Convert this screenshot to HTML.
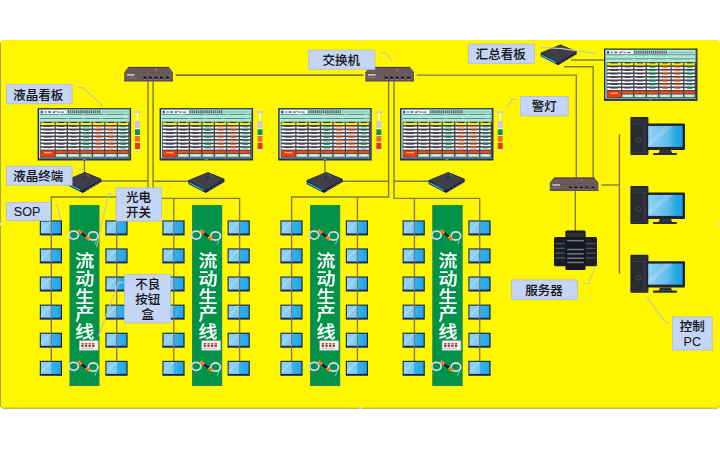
<!DOCTYPE html>
<html lang="zh-CN">
<head>
<meta charset="utf-8">
<title>流动生产线 看板系统</title>
<style>
html,body{margin:0;padding:0;background:#fff;}
body{width:720px;height:450px;overflow:hidden;}
#stage{position:relative;width:720px;height:450px;overflow:hidden;background:#fff;font-family:"Liberation Sans","Noto Sans CJK SC",sans-serif;}
#stage svg{position:absolute;left:-10px;top:0;filter:blur(0.42px);}
.lb{position:absolute;display:flex;align-items:center;justify-content:center;color:#161616;font-size:12.5px;font-weight:500;-webkit-text-stroke:0.1px #161616;line-height:15px;text-align:center;white-space:nowrap;box-sizing:border-box;padding:3px 2px 0 0;}
.lb.ml{white-space:normal;}
.lb.en{font-size:12.6px;}
.lb.ml span{display:block;word-break:break-all;}
.cv{position:absolute;color:#fff;-webkit-text-stroke:0.2px #fff;font-size:17.2px;font-weight:500;line-height:17.7px;text-align:center;word-break:break-all;white-space:normal;transform:scaleX(1.11);transform-origin:center top;}
.cv{box-sizing:border-box;padding:0 5px;}
</style>
</head>
<body>
<div id="stage">
<svg width="740" height="450" viewBox="-10 0 740 450">
<defs><linearGradient id="mg" x1="0" y1="0" x2="1" y2="0"><stop offset="0" stop-color="#8fd3f6"/><stop offset="0.5" stop-color="#7cc9f3"/><stop offset="0.52" stop-color="#35b3ee"/><stop offset="1" stop-color="#22a5e6"/></linearGradient><linearGradient id="pg" x1="0" y1="0" x2="1" y2="0"><stop offset="0" stop-color="#8ed2f4"/><stop offset="0.55" stop-color="#62bdec"/><stop offset="0.8" stop-color="#2aa9e6"/><stop offset="1" stop-color="#189fe2"/></linearGradient></defs>
<path d="M2.4 40 L726 40 L726 408.6 L2.4 408.6 L0 406.2 L0 42.4 Z" fill="#fff700"/>
<path d="M717.8 39 L727 39 L727 50 L720.2 50 L720.2 42.4 Z M717.8 409.6 L727 409.6 L727 400 L720.2 400 L720.2 406.2 Z" fill="#ffffff"/>
<path d="M720.2 50 L727 50 L727 400 L720.2 400 Z" fill="#fff700"/>
<path d="M0.45 42.6 L0.45 406 L2.6 408.2 L717.4 408.2 L719.7 406" stroke="#9a9d38" stroke-width="0.9" fill="none"/>
<path d="M148 80L148 197L51.3 197L51.3 361" stroke="#807e48" stroke-width="1.4" fill="none"/><path d="M153.1 80L153.1 198.4L239.6 198.4L239.6 361" stroke="#807e48" stroke-width="1.4" fill="none"/><path d="M116.7 197L116.7 361" stroke="#807e48" stroke-width="1.4" fill="none"/><path d="M173.8 198.4L173.8 361" stroke="#807e48" stroke-width="1.4" fill="none"/><path d="M100 181L148 181" stroke="#807e48" stroke-width="1.4" fill="none"/><path d="M153.1 181.3L190 181.3" stroke="#807e48" stroke-width="1.4" fill="none"/><path d="M175.8 75.1L363.4 75.1" stroke="#807e48" stroke-width="1.6" fill="none"/><path d="M388.6 80L388.6 197L291.6 197L291.6 361" stroke="#807e48" stroke-width="1.4" fill="none"/><path d="M394 80L394 198.4L479.7 198.4L479.7 361" stroke="#807e48" stroke-width="1.4" fill="none"/><path d="M357.4 197L357.4 361" stroke="#807e48" stroke-width="1.4" fill="none"/><path d="M414.4 198.4L414.4 361" stroke="#807e48" stroke-width="1.4" fill="none"/><path d="M341 181.2L388.6 181.2" stroke="#807e48" stroke-width="1.4" fill="none"/><path d="M394 181.3L430 181.3" stroke="#807e48" stroke-width="1.4" fill="none"/><path d="M416.7 75.1L576.3 75.1L576.3 179" stroke="#807e48" stroke-width="1.4" fill="none"/><path d="M571 60L604.5 60" stroke="#807e48" stroke-width="1.4" fill="none"/><path d="M564 66.7L593.2 66.7L593.2 179" stroke="#807e48" stroke-width="1.4" fill="none"/><path d="M601.4 185L619.4 185" stroke="#807e48" stroke-width="1.4" fill="none"/><path d="M619.4 134.2L619.4 273.8" stroke="#807e48" stroke-width="1.4" fill="none"/><path d="M575.3 190L575.3 231" stroke="#807e48" stroke-width="1.4" fill="none"/><path d="M84.4 160L84.4 173" stroke="#807e48" stroke-width="1.4" fill="none"/><path d="M324.9 160L324.9 173" stroke="#807e48" stroke-width="1.4" fill="none"/>
<rect x="69.7" y="205" width="29.6" height="180.8" fill="#029249"/>
<rect x="69.7" y="205" width="0.8" height="180.8" fill="#3c7a55"/>
<rect x="98.6" y="205" width="0.7" height="180.8" fill="#2f8a58"/>
<rect x="69.7" y="385" width="29.6" height="0.9" fill="#3c7a55"/>
<rect x="192.2" y="205" width="29.9" height="180.8" fill="#029249"/>
<rect x="192.2" y="205" width="0.8" height="180.8" fill="#3c7a55"/>
<rect x="221.4" y="205" width="0.7" height="180.8" fill="#2f8a58"/>
<rect x="192.2" y="385" width="29.9" height="0.9" fill="#3c7a55"/>
<rect x="310.2" y="205" width="29.9" height="180.8" fill="#029249"/>
<rect x="310.2" y="205" width="0.8" height="180.8" fill="#3c7a55"/>
<rect x="339.4" y="205" width="0.7" height="180.8" fill="#2f8a58"/>
<rect x="310.2" y="385" width="29.9" height="0.9" fill="#3c7a55"/>
<rect x="432.5" y="205" width="30" height="180.8" fill="#029249"/>
<rect x="432.5" y="205" width="0.8" height="180.8" fill="#3c7a55"/>
<rect x="461.8" y="205" width="0.7" height="180.8" fill="#2f8a58"/>
<rect x="432.5" y="385" width="30" height="0.9" fill="#3c7a55"/>
<g transform="translate(39.8 220.4)"><rect x="0" y="0" width="22.2" height="15" fill="#18234f"/><rect x="1.1" y="1.1" width="19.9" height="12" fill="url(#mg)"/><path d="M0.8 10.5 L9.32 1 L12.88 1 L0.8 12.8 Z" fill="#ffffff" opacity="0.2"/></g><path d="M51.3 220.4L51.3 235.4" stroke="#73777a" stroke-width="1.2" fill="none"/><g transform="translate(105.4 220.4)"><rect x="0" y="0" width="22.2" height="15" fill="#18234f"/><rect x="1.1" y="1.1" width="19.9" height="12" fill="url(#mg)"/><path d="M0.8 10.5 L9.32 1 L12.88 1 L0.8 12.8 Z" fill="#ffffff" opacity="0.2"/></g><path d="M116.7 220.4L116.7 235.4" stroke="#73777a" stroke-width="1.2" fill="none"/><g transform="translate(39.8 248.4)"><rect x="0" y="0" width="22.2" height="15" fill="#18234f"/><rect x="1.1" y="1.1" width="19.9" height="12" fill="url(#mg)"/><path d="M0.8 10.5 L9.32 1 L12.88 1 L0.8 12.8 Z" fill="#ffffff" opacity="0.2"/></g><path d="M51.3 248.4L51.3 263.4" stroke="#73777a" stroke-width="1.2" fill="none"/><g transform="translate(105.4 248.4)"><rect x="0" y="0" width="22.2" height="15" fill="#18234f"/><rect x="1.1" y="1.1" width="19.9" height="12" fill="url(#mg)"/><path d="M0.8 10.5 L9.32 1 L12.88 1 L0.8 12.8 Z" fill="#ffffff" opacity="0.2"/></g><path d="M116.7 248.4L116.7 263.4" stroke="#73777a" stroke-width="1.2" fill="none"/><g transform="translate(39.8 276.5)"><rect x="0" y="0" width="22.2" height="15" fill="#18234f"/><rect x="1.1" y="1.1" width="19.9" height="12" fill="url(#mg)"/><path d="M0.8 10.5 L9.32 1 L12.88 1 L0.8 12.8 Z" fill="#ffffff" opacity="0.2"/></g><path d="M51.3 276.5L51.3 291.5" stroke="#73777a" stroke-width="1.2" fill="none"/><g transform="translate(105.4 276.5)"><rect x="0" y="0" width="22.2" height="15" fill="#18234f"/><rect x="1.1" y="1.1" width="19.9" height="12" fill="url(#mg)"/><path d="M0.8 10.5 L9.32 1 L12.88 1 L0.8 12.8 Z" fill="#ffffff" opacity="0.2"/></g><path d="M116.7 276.5L116.7 291.5" stroke="#73777a" stroke-width="1.2" fill="none"/><g transform="translate(39.8 304.6)"><rect x="0" y="0" width="22.2" height="15" fill="#18234f"/><rect x="1.1" y="1.1" width="19.9" height="12" fill="url(#mg)"/><path d="M0.8 10.5 L9.32 1 L12.88 1 L0.8 12.8 Z" fill="#ffffff" opacity="0.2"/></g><path d="M51.3 304.6L51.3 319.6" stroke="#73777a" stroke-width="1.2" fill="none"/><g transform="translate(105.4 304.6)"><rect x="0" y="0" width="22.2" height="15" fill="#18234f"/><rect x="1.1" y="1.1" width="19.9" height="12" fill="url(#mg)"/><path d="M0.8 10.5 L9.32 1 L12.88 1 L0.8 12.8 Z" fill="#ffffff" opacity="0.2"/></g><path d="M116.7 304.6L116.7 319.6" stroke="#73777a" stroke-width="1.2" fill="none"/><g transform="translate(39.8 332.7)"><rect x="0" y="0" width="22.2" height="15" fill="#18234f"/><rect x="1.1" y="1.1" width="19.9" height="12" fill="url(#mg)"/><path d="M0.8 10.5 L9.32 1 L12.88 1 L0.8 12.8 Z" fill="#ffffff" opacity="0.2"/></g><path d="M51.3 332.7L51.3 347.7" stroke="#73777a" stroke-width="1.2" fill="none"/><g transform="translate(105.4 332.7)"><rect x="0" y="0" width="22.2" height="15" fill="#18234f"/><rect x="1.1" y="1.1" width="19.9" height="12" fill="url(#mg)"/><path d="M0.8 10.5 L9.32 1 L12.88 1 L0.8 12.8 Z" fill="#ffffff" opacity="0.2"/></g><path d="M116.7 332.7L116.7 347.7" stroke="#73777a" stroke-width="1.2" fill="none"/><g transform="translate(39.8 360.8)"><rect x="0" y="0" width="22.2" height="15" fill="#18234f"/><rect x="1.1" y="1.1" width="19.9" height="12" fill="url(#mg)"/><path d="M0.8 10.5 L9.32 1 L12.88 1 L0.8 12.8 Z" fill="#ffffff" opacity="0.2"/></g><g transform="translate(105.4 360.8)"><rect x="0" y="0" width="22.2" height="15" fill="#18234f"/><rect x="1.1" y="1.1" width="19.9" height="12" fill="url(#mg)"/><path d="M0.8 10.5 L9.32 1 L12.88 1 L0.8 12.8 Z" fill="#ffffff" opacity="0.2"/></g><g transform="translate(162.4 220.4)"><rect x="0" y="0" width="22.2" height="15" fill="#18234f"/><rect x="1.1" y="1.1" width="19.9" height="12" fill="url(#mg)"/><path d="M0.8 10.5 L9.32 1 L12.88 1 L0.8 12.8 Z" fill="#ffffff" opacity="0.2"/></g><path d="M173.8 220.4L173.8 235.4" stroke="#73777a" stroke-width="1.2" fill="none"/><g transform="translate(227.6 220.4)"><rect x="0" y="0" width="22.2" height="15" fill="#18234f"/><rect x="1.1" y="1.1" width="19.9" height="12" fill="url(#mg)"/><path d="M0.8 10.5 L9.32 1 L12.88 1 L0.8 12.8 Z" fill="#ffffff" opacity="0.2"/></g><path d="M239.6 220.4L239.6 235.4" stroke="#73777a" stroke-width="1.2" fill="none"/><g transform="translate(162.4 248.4)"><rect x="0" y="0" width="22.2" height="15" fill="#18234f"/><rect x="1.1" y="1.1" width="19.9" height="12" fill="url(#mg)"/><path d="M0.8 10.5 L9.32 1 L12.88 1 L0.8 12.8 Z" fill="#ffffff" opacity="0.2"/></g><path d="M173.8 248.4L173.8 263.4" stroke="#73777a" stroke-width="1.2" fill="none"/><g transform="translate(227.6 248.4)"><rect x="0" y="0" width="22.2" height="15" fill="#18234f"/><rect x="1.1" y="1.1" width="19.9" height="12" fill="url(#mg)"/><path d="M0.8 10.5 L9.32 1 L12.88 1 L0.8 12.8 Z" fill="#ffffff" opacity="0.2"/></g><path d="M239.6 248.4L239.6 263.4" stroke="#73777a" stroke-width="1.2" fill="none"/><g transform="translate(162.4 276.5)"><rect x="0" y="0" width="22.2" height="15" fill="#18234f"/><rect x="1.1" y="1.1" width="19.9" height="12" fill="url(#mg)"/><path d="M0.8 10.5 L9.32 1 L12.88 1 L0.8 12.8 Z" fill="#ffffff" opacity="0.2"/></g><path d="M173.8 276.5L173.8 291.5" stroke="#73777a" stroke-width="1.2" fill="none"/><g transform="translate(227.6 276.5)"><rect x="0" y="0" width="22.2" height="15" fill="#18234f"/><rect x="1.1" y="1.1" width="19.9" height="12" fill="url(#mg)"/><path d="M0.8 10.5 L9.32 1 L12.88 1 L0.8 12.8 Z" fill="#ffffff" opacity="0.2"/></g><path d="M239.6 276.5L239.6 291.5" stroke="#73777a" stroke-width="1.2" fill="none"/><g transform="translate(162.4 304.6)"><rect x="0" y="0" width="22.2" height="15" fill="#18234f"/><rect x="1.1" y="1.1" width="19.9" height="12" fill="url(#mg)"/><path d="M0.8 10.5 L9.32 1 L12.88 1 L0.8 12.8 Z" fill="#ffffff" opacity="0.2"/></g><path d="M173.8 304.6L173.8 319.6" stroke="#73777a" stroke-width="1.2" fill="none"/><g transform="translate(227.6 304.6)"><rect x="0" y="0" width="22.2" height="15" fill="#18234f"/><rect x="1.1" y="1.1" width="19.9" height="12" fill="url(#mg)"/><path d="M0.8 10.5 L9.32 1 L12.88 1 L0.8 12.8 Z" fill="#ffffff" opacity="0.2"/></g><path d="M239.6 304.6L239.6 319.6" stroke="#73777a" stroke-width="1.2" fill="none"/><g transform="translate(162.4 332.7)"><rect x="0" y="0" width="22.2" height="15" fill="#18234f"/><rect x="1.1" y="1.1" width="19.9" height="12" fill="url(#mg)"/><path d="M0.8 10.5 L9.32 1 L12.88 1 L0.8 12.8 Z" fill="#ffffff" opacity="0.2"/></g><path d="M173.8 332.7L173.8 347.7" stroke="#73777a" stroke-width="1.2" fill="none"/><g transform="translate(227.6 332.7)"><rect x="0" y="0" width="22.2" height="15" fill="#18234f"/><rect x="1.1" y="1.1" width="19.9" height="12" fill="url(#mg)"/><path d="M0.8 10.5 L9.32 1 L12.88 1 L0.8 12.8 Z" fill="#ffffff" opacity="0.2"/></g><path d="M239.6 332.7L239.6 347.7" stroke="#73777a" stroke-width="1.2" fill="none"/><g transform="translate(162.4 360.8)"><rect x="0" y="0" width="22.2" height="15" fill="#18234f"/><rect x="1.1" y="1.1" width="19.9" height="12" fill="url(#mg)"/><path d="M0.8 10.5 L9.32 1 L12.88 1 L0.8 12.8 Z" fill="#ffffff" opacity="0.2"/></g><g transform="translate(227.6 360.8)"><rect x="0" y="0" width="22.2" height="15" fill="#18234f"/><rect x="1.1" y="1.1" width="19.9" height="12" fill="url(#mg)"/><path d="M0.8 10.5 L9.32 1 L12.88 1 L0.8 12.8 Z" fill="#ffffff" opacity="0.2"/></g><g transform="translate(280.4 220.4)"><rect x="0" y="0" width="22.2" height="15" fill="#18234f"/><rect x="1.1" y="1.1" width="19.9" height="12" fill="url(#mg)"/><path d="M0.8 10.5 L9.32 1 L12.88 1 L0.8 12.8 Z" fill="#ffffff" opacity="0.2"/></g><path d="M291.6 220.4L291.6 235.4" stroke="#73777a" stroke-width="1.2" fill="none"/><g transform="translate(345.8 220.4)"><rect x="0" y="0" width="22.2" height="15" fill="#18234f"/><rect x="1.1" y="1.1" width="19.9" height="12" fill="url(#mg)"/><path d="M0.8 10.5 L9.32 1 L12.88 1 L0.8 12.8 Z" fill="#ffffff" opacity="0.2"/></g><path d="M357.4 220.4L357.4 235.4" stroke="#73777a" stroke-width="1.2" fill="none"/><g transform="translate(280.4 248.4)"><rect x="0" y="0" width="22.2" height="15" fill="#18234f"/><rect x="1.1" y="1.1" width="19.9" height="12" fill="url(#mg)"/><path d="M0.8 10.5 L9.32 1 L12.88 1 L0.8 12.8 Z" fill="#ffffff" opacity="0.2"/></g><path d="M291.6 248.4L291.6 263.4" stroke="#73777a" stroke-width="1.2" fill="none"/><g transform="translate(345.8 248.4)"><rect x="0" y="0" width="22.2" height="15" fill="#18234f"/><rect x="1.1" y="1.1" width="19.9" height="12" fill="url(#mg)"/><path d="M0.8 10.5 L9.32 1 L12.88 1 L0.8 12.8 Z" fill="#ffffff" opacity="0.2"/></g><path d="M357.4 248.4L357.4 263.4" stroke="#73777a" stroke-width="1.2" fill="none"/><g transform="translate(280.4 276.5)"><rect x="0" y="0" width="22.2" height="15" fill="#18234f"/><rect x="1.1" y="1.1" width="19.9" height="12" fill="url(#mg)"/><path d="M0.8 10.5 L9.32 1 L12.88 1 L0.8 12.8 Z" fill="#ffffff" opacity="0.2"/></g><path d="M291.6 276.5L291.6 291.5" stroke="#73777a" stroke-width="1.2" fill="none"/><g transform="translate(345.8 276.5)"><rect x="0" y="0" width="22.2" height="15" fill="#18234f"/><rect x="1.1" y="1.1" width="19.9" height="12" fill="url(#mg)"/><path d="M0.8 10.5 L9.32 1 L12.88 1 L0.8 12.8 Z" fill="#ffffff" opacity="0.2"/></g><path d="M357.4 276.5L357.4 291.5" stroke="#73777a" stroke-width="1.2" fill="none"/><g transform="translate(280.4 304.6)"><rect x="0" y="0" width="22.2" height="15" fill="#18234f"/><rect x="1.1" y="1.1" width="19.9" height="12" fill="url(#mg)"/><path d="M0.8 10.5 L9.32 1 L12.88 1 L0.8 12.8 Z" fill="#ffffff" opacity="0.2"/></g><path d="M291.6 304.6L291.6 319.6" stroke="#73777a" stroke-width="1.2" fill="none"/><g transform="translate(345.8 304.6)"><rect x="0" y="0" width="22.2" height="15" fill="#18234f"/><rect x="1.1" y="1.1" width="19.9" height="12" fill="url(#mg)"/><path d="M0.8 10.5 L9.32 1 L12.88 1 L0.8 12.8 Z" fill="#ffffff" opacity="0.2"/></g><path d="M357.4 304.6L357.4 319.6" stroke="#73777a" stroke-width="1.2" fill="none"/><g transform="translate(280.4 332.7)"><rect x="0" y="0" width="22.2" height="15" fill="#18234f"/><rect x="1.1" y="1.1" width="19.9" height="12" fill="url(#mg)"/><path d="M0.8 10.5 L9.32 1 L12.88 1 L0.8 12.8 Z" fill="#ffffff" opacity="0.2"/></g><path d="M291.6 332.7L291.6 347.7" stroke="#73777a" stroke-width="1.2" fill="none"/><g transform="translate(345.8 332.7)"><rect x="0" y="0" width="22.2" height="15" fill="#18234f"/><rect x="1.1" y="1.1" width="19.9" height="12" fill="url(#mg)"/><path d="M0.8 10.5 L9.32 1 L12.88 1 L0.8 12.8 Z" fill="#ffffff" opacity="0.2"/></g><path d="M357.4 332.7L357.4 347.7" stroke="#73777a" stroke-width="1.2" fill="none"/><g transform="translate(280.4 360.8)"><rect x="0" y="0" width="22.2" height="15" fill="#18234f"/><rect x="1.1" y="1.1" width="19.9" height="12" fill="url(#mg)"/><path d="M0.8 10.5 L9.32 1 L12.88 1 L0.8 12.8 Z" fill="#ffffff" opacity="0.2"/></g><g transform="translate(345.8 360.8)"><rect x="0" y="0" width="22.2" height="15" fill="#18234f"/><rect x="1.1" y="1.1" width="19.9" height="12" fill="url(#mg)"/><path d="M0.8 10.5 L9.32 1 L12.88 1 L0.8 12.8 Z" fill="#ffffff" opacity="0.2"/></g><g transform="translate(402.6 220.4)"><rect x="0" y="0" width="22.2" height="15" fill="#18234f"/><rect x="1.1" y="1.1" width="19.9" height="12" fill="url(#mg)"/><path d="M0.8 10.5 L9.32 1 L12.88 1 L0.8 12.8 Z" fill="#ffffff" opacity="0.2"/></g><path d="M414.4 220.4L414.4 235.4" stroke="#73777a" stroke-width="1.2" fill="none"/><g transform="translate(468.4 220.4)"><rect x="0" y="0" width="22.2" height="15" fill="#18234f"/><rect x="1.1" y="1.1" width="19.9" height="12" fill="url(#mg)"/><path d="M0.8 10.5 L9.32 1 L12.88 1 L0.8 12.8 Z" fill="#ffffff" opacity="0.2"/></g><path d="M479.7 220.4L479.7 235.4" stroke="#73777a" stroke-width="1.2" fill="none"/><g transform="translate(402.6 248.4)"><rect x="0" y="0" width="22.2" height="15" fill="#18234f"/><rect x="1.1" y="1.1" width="19.9" height="12" fill="url(#mg)"/><path d="M0.8 10.5 L9.32 1 L12.88 1 L0.8 12.8 Z" fill="#ffffff" opacity="0.2"/></g><path d="M414.4 248.4L414.4 263.4" stroke="#73777a" stroke-width="1.2" fill="none"/><g transform="translate(468.4 248.4)"><rect x="0" y="0" width="22.2" height="15" fill="#18234f"/><rect x="1.1" y="1.1" width="19.9" height="12" fill="url(#mg)"/><path d="M0.8 10.5 L9.32 1 L12.88 1 L0.8 12.8 Z" fill="#ffffff" opacity="0.2"/></g><path d="M479.7 248.4L479.7 263.4" stroke="#73777a" stroke-width="1.2" fill="none"/><g transform="translate(402.6 276.5)"><rect x="0" y="0" width="22.2" height="15" fill="#18234f"/><rect x="1.1" y="1.1" width="19.9" height="12" fill="url(#mg)"/><path d="M0.8 10.5 L9.32 1 L12.88 1 L0.8 12.8 Z" fill="#ffffff" opacity="0.2"/></g><path d="M414.4 276.5L414.4 291.5" stroke="#73777a" stroke-width="1.2" fill="none"/><g transform="translate(468.4 276.5)"><rect x="0" y="0" width="22.2" height="15" fill="#18234f"/><rect x="1.1" y="1.1" width="19.9" height="12" fill="url(#mg)"/><path d="M0.8 10.5 L9.32 1 L12.88 1 L0.8 12.8 Z" fill="#ffffff" opacity="0.2"/></g><path d="M479.7 276.5L479.7 291.5" stroke="#73777a" stroke-width="1.2" fill="none"/><g transform="translate(402.6 304.6)"><rect x="0" y="0" width="22.2" height="15" fill="#18234f"/><rect x="1.1" y="1.1" width="19.9" height="12" fill="url(#mg)"/><path d="M0.8 10.5 L9.32 1 L12.88 1 L0.8 12.8 Z" fill="#ffffff" opacity="0.2"/></g><path d="M414.4 304.6L414.4 319.6" stroke="#73777a" stroke-width="1.2" fill="none"/><g transform="translate(468.4 304.6)"><rect x="0" y="0" width="22.2" height="15" fill="#18234f"/><rect x="1.1" y="1.1" width="19.9" height="12" fill="url(#mg)"/><path d="M0.8 10.5 L9.32 1 L12.88 1 L0.8 12.8 Z" fill="#ffffff" opacity="0.2"/></g><path d="M479.7 304.6L479.7 319.6" stroke="#73777a" stroke-width="1.2" fill="none"/><g transform="translate(402.6 332.7)"><rect x="0" y="0" width="22.2" height="15" fill="#18234f"/><rect x="1.1" y="1.1" width="19.9" height="12" fill="url(#mg)"/><path d="M0.8 10.5 L9.32 1 L12.88 1 L0.8 12.8 Z" fill="#ffffff" opacity="0.2"/></g><path d="M414.4 332.7L414.4 347.7" stroke="#73777a" stroke-width="1.2" fill="none"/><g transform="translate(468.4 332.7)"><rect x="0" y="0" width="22.2" height="15" fill="#18234f"/><rect x="1.1" y="1.1" width="19.9" height="12" fill="url(#mg)"/><path d="M0.8 10.5 L9.32 1 L12.88 1 L0.8 12.8 Z" fill="#ffffff" opacity="0.2"/></g><path d="M479.7 332.7L479.7 347.7" stroke="#73777a" stroke-width="1.2" fill="none"/><g transform="translate(402.6 360.8)"><rect x="0" y="0" width="22.2" height="15" fill="#18234f"/><rect x="1.1" y="1.1" width="19.9" height="12" fill="url(#mg)"/><path d="M0.8 10.5 L9.32 1 L12.88 1 L0.8 12.8 Z" fill="#ffffff" opacity="0.2"/></g><g transform="translate(468.4 360.8)"><rect x="0" y="0" width="22.2" height="15" fill="#18234f"/><rect x="1.1" y="1.1" width="19.9" height="12" fill="url(#mg)"/><path d="M0.8 10.5 L9.32 1 L12.88 1 L0.8 12.8 Z" fill="#ffffff" opacity="0.2"/></g>
<g transform="translate(73.9 234.8)"><path d="M-4.6 0.8 L-8 3.4" stroke="#d8d8e8" stroke-width="0.8" fill="none"/><ellipse cx="-0.2" cy="0.3" rx="4.7" ry="4" fill="none" stroke="#d9d5ea" stroke-width="1.8"/><ellipse cx="19.2" cy="1.1" rx="4.8" ry="4.1" fill="none" stroke="#d9d5ea" stroke-width="1.8"/><path d="M4.2 -4.6 L15.8 5" stroke="#f4a51c" stroke-width="2.8" fill="none"/><path d="M7.6 -1.8 L12 1.9" stroke="#1c1c44" stroke-width="2.8" fill="none"/><path d="M5.4 -3.6 L6.4 -2.8 M13.4 3 L14.4 3.8" stroke="#e2502a" stroke-width="2.8" fill="none"/><path d="M23 4 L21 9.8" stroke="#9fd0e0" stroke-width="0.8" fill="none"/></g>
<g transform="translate(73.9 366)"><path d="M-4.6 0.8 L-8 3.4" stroke="#d8d8e8" stroke-width="0.8" fill="none"/><ellipse cx="-0.2" cy="0.3" rx="4.7" ry="4" fill="none" stroke="#d9d5ea" stroke-width="1.8"/><ellipse cx="19.2" cy="1.1" rx="4.8" ry="4.1" fill="none" stroke="#d9d5ea" stroke-width="1.8"/><path d="M4.2 -4.6 L15.8 5" stroke="#f4a51c" stroke-width="2.8" fill="none"/><path d="M7.6 -1.8 L12 1.9" stroke="#1c1c44" stroke-width="2.8" fill="none"/><path d="M5.4 -3.6 L6.4 -2.8 M13.4 3 L14.4 3.8" stroke="#e2502a" stroke-width="2.8" fill="none"/><path d="M23 4 L21 9.8" stroke="#9fd0e0" stroke-width="0.8" fill="none"/></g>
<rect x="79.3" y="340.8" width="18.8" height="9.4" fill="#f4f2f2"/>
<rect x="79.3" y="340.8" width="18.8" height="9.4" fill="none" stroke="#b9b9b9" stroke-width="0.6"/>
<rect x="81.3" y="343" width="2.3" height="1.4" fill="#e0401c"/>
<rect x="81.3" y="344.8" width="2.3" height="2" fill="#8a2a2a"/>
<rect x="84.9" y="343" width="2.3" height="1.4" fill="#e0401c"/>
<rect x="84.9" y="344.8" width="2.3" height="2" fill="#8a2a2a"/>
<rect x="88.5" y="343" width="2.3" height="1.4" fill="#e0401c"/>
<rect x="88.5" y="344.8" width="2.3" height="2" fill="#8a2a2a"/>
<rect x="92.1" y="343" width="2.3" height="1.4" fill="#e0401c"/>
<rect x="92.1" y="344.8" width="2.3" height="2" fill="#8a2a2a"/>
<rect x="80.9" y="347.8" width="13" height="0.9" fill="#a8b8d8"/>
<g transform="translate(196.4 234.8)"><path d="M-4.6 0.8 L-8 3.4" stroke="#d8d8e8" stroke-width="0.8" fill="none"/><ellipse cx="-0.2" cy="0.3" rx="4.7" ry="4" fill="none" stroke="#d9d5ea" stroke-width="1.8"/><ellipse cx="19.2" cy="1.1" rx="4.8" ry="4.1" fill="none" stroke="#d9d5ea" stroke-width="1.8"/><path d="M4.2 -4.6 L15.8 5" stroke="#f4a51c" stroke-width="2.8" fill="none"/><path d="M7.6 -1.8 L12 1.9" stroke="#1c1c44" stroke-width="2.8" fill="none"/><path d="M5.4 -3.6 L6.4 -2.8 M13.4 3 L14.4 3.8" stroke="#e2502a" stroke-width="2.8" fill="none"/><path d="M23 4 L21 9.8" stroke="#9fd0e0" stroke-width="0.8" fill="none"/></g>
<g transform="translate(196.4 366)"><path d="M-4.6 0.8 L-8 3.4" stroke="#d8d8e8" stroke-width="0.8" fill="none"/><ellipse cx="-0.2" cy="0.3" rx="4.7" ry="4" fill="none" stroke="#d9d5ea" stroke-width="1.8"/><ellipse cx="19.2" cy="1.1" rx="4.8" ry="4.1" fill="none" stroke="#d9d5ea" stroke-width="1.8"/><path d="M4.2 -4.6 L15.8 5" stroke="#f4a51c" stroke-width="2.8" fill="none"/><path d="M7.6 -1.8 L12 1.9" stroke="#1c1c44" stroke-width="2.8" fill="none"/><path d="M5.4 -3.6 L6.4 -2.8 M13.4 3 L14.4 3.8" stroke="#e2502a" stroke-width="2.8" fill="none"/><path d="M23 4 L21 9.8" stroke="#9fd0e0" stroke-width="0.8" fill="none"/></g>
<rect x="201.8" y="340.8" width="18.8" height="9.4" fill="#f4f2f2"/>
<rect x="201.8" y="340.8" width="18.8" height="9.4" fill="none" stroke="#b9b9b9" stroke-width="0.6"/>
<rect x="203.8" y="343" width="2.3" height="1.4" fill="#e0401c"/>
<rect x="203.8" y="344.8" width="2.3" height="2" fill="#8a2a2a"/>
<rect x="207.4" y="343" width="2.3" height="1.4" fill="#e0401c"/>
<rect x="207.4" y="344.8" width="2.3" height="2" fill="#8a2a2a"/>
<rect x="211" y="343" width="2.3" height="1.4" fill="#e0401c"/>
<rect x="211" y="344.8" width="2.3" height="2" fill="#8a2a2a"/>
<rect x="214.6" y="343" width="2.3" height="1.4" fill="#e0401c"/>
<rect x="214.6" y="344.8" width="2.3" height="2" fill="#8a2a2a"/>
<rect x="203.4" y="347.8" width="13" height="0.9" fill="#a8b8d8"/>
<g transform="translate(314.4 234.8)"><path d="M-4.6 0.8 L-8 3.4" stroke="#d8d8e8" stroke-width="0.8" fill="none"/><ellipse cx="-0.2" cy="0.3" rx="4.7" ry="4" fill="none" stroke="#d9d5ea" stroke-width="1.8"/><ellipse cx="19.2" cy="1.1" rx="4.8" ry="4.1" fill="none" stroke="#d9d5ea" stroke-width="1.8"/><path d="M4.2 -4.6 L15.8 5" stroke="#f4a51c" stroke-width="2.8" fill="none"/><path d="M7.6 -1.8 L12 1.9" stroke="#1c1c44" stroke-width="2.8" fill="none"/><path d="M5.4 -3.6 L6.4 -2.8 M13.4 3 L14.4 3.8" stroke="#e2502a" stroke-width="2.8" fill="none"/><path d="M23 4 L21 9.8" stroke="#9fd0e0" stroke-width="0.8" fill="none"/></g>
<g transform="translate(314.4 366)"><path d="M-4.6 0.8 L-8 3.4" stroke="#d8d8e8" stroke-width="0.8" fill="none"/><ellipse cx="-0.2" cy="0.3" rx="4.7" ry="4" fill="none" stroke="#d9d5ea" stroke-width="1.8"/><ellipse cx="19.2" cy="1.1" rx="4.8" ry="4.1" fill="none" stroke="#d9d5ea" stroke-width="1.8"/><path d="M4.2 -4.6 L15.8 5" stroke="#f4a51c" stroke-width="2.8" fill="none"/><path d="M7.6 -1.8 L12 1.9" stroke="#1c1c44" stroke-width="2.8" fill="none"/><path d="M5.4 -3.6 L6.4 -2.8 M13.4 3 L14.4 3.8" stroke="#e2502a" stroke-width="2.8" fill="none"/><path d="M23 4 L21 9.8" stroke="#9fd0e0" stroke-width="0.8" fill="none"/></g>
<rect x="319.8" y="340.8" width="18.8" height="9.4" fill="#f4f2f2"/>
<rect x="319.8" y="340.8" width="18.8" height="9.4" fill="none" stroke="#b9b9b9" stroke-width="0.6"/>
<rect x="321.8" y="343" width="2.3" height="1.4" fill="#e0401c"/>
<rect x="321.8" y="344.8" width="2.3" height="2" fill="#8a2a2a"/>
<rect x="325.4" y="343" width="2.3" height="1.4" fill="#e0401c"/>
<rect x="325.4" y="344.8" width="2.3" height="2" fill="#8a2a2a"/>
<rect x="329" y="343" width="2.3" height="1.4" fill="#e0401c"/>
<rect x="329" y="344.8" width="2.3" height="2" fill="#8a2a2a"/>
<rect x="332.6" y="343" width="2.3" height="1.4" fill="#e0401c"/>
<rect x="332.6" y="344.8" width="2.3" height="2" fill="#8a2a2a"/>
<rect x="321.4" y="347.8" width="13" height="0.9" fill="#a8b8d8"/>
<g transform="translate(436.7 234.8)"><path d="M-4.6 0.8 L-8 3.4" stroke="#d8d8e8" stroke-width="0.8" fill="none"/><ellipse cx="-0.2" cy="0.3" rx="4.7" ry="4" fill="none" stroke="#d9d5ea" stroke-width="1.8"/><ellipse cx="19.2" cy="1.1" rx="4.8" ry="4.1" fill="none" stroke="#d9d5ea" stroke-width="1.8"/><path d="M4.2 -4.6 L15.8 5" stroke="#f4a51c" stroke-width="2.8" fill="none"/><path d="M7.6 -1.8 L12 1.9" stroke="#1c1c44" stroke-width="2.8" fill="none"/><path d="M5.4 -3.6 L6.4 -2.8 M13.4 3 L14.4 3.8" stroke="#e2502a" stroke-width="2.8" fill="none"/><path d="M23 4 L21 9.8" stroke="#9fd0e0" stroke-width="0.8" fill="none"/></g>
<g transform="translate(436.7 366)"><path d="M-4.6 0.8 L-8 3.4" stroke="#d8d8e8" stroke-width="0.8" fill="none"/><ellipse cx="-0.2" cy="0.3" rx="4.7" ry="4" fill="none" stroke="#d9d5ea" stroke-width="1.8"/><ellipse cx="19.2" cy="1.1" rx="4.8" ry="4.1" fill="none" stroke="#d9d5ea" stroke-width="1.8"/><path d="M4.2 -4.6 L15.8 5" stroke="#f4a51c" stroke-width="2.8" fill="none"/><path d="M7.6 -1.8 L12 1.9" stroke="#1c1c44" stroke-width="2.8" fill="none"/><path d="M5.4 -3.6 L6.4 -2.8 M13.4 3 L14.4 3.8" stroke="#e2502a" stroke-width="2.8" fill="none"/><path d="M23 4 L21 9.8" stroke="#9fd0e0" stroke-width="0.8" fill="none"/></g>
<rect x="442.1" y="340.8" width="18.8" height="9.4" fill="#f4f2f2"/>
<rect x="442.1" y="340.8" width="18.8" height="9.4" fill="none" stroke="#b9b9b9" stroke-width="0.6"/>
<rect x="444.1" y="343" width="2.3" height="1.4" fill="#e0401c"/>
<rect x="444.1" y="344.8" width="2.3" height="2" fill="#8a2a2a"/>
<rect x="447.7" y="343" width="2.3" height="1.4" fill="#e0401c"/>
<rect x="447.7" y="344.8" width="2.3" height="2" fill="#8a2a2a"/>
<rect x="451.3" y="343" width="2.3" height="1.4" fill="#e0401c"/>
<rect x="451.3" y="344.8" width="2.3" height="2" fill="#8a2a2a"/>
<rect x="454.9" y="343" width="2.3" height="1.4" fill="#e0401c"/>
<rect x="454.9" y="344.8" width="2.3" height="2" fill="#8a2a2a"/>
<rect x="443.7" y="347.8" width="13" height="0.9" fill="#a8b8d8"/>
<g transform="translate(37.6 108.1)"><rect x="0" y="0" width="93.5" height="52.4" fill="#2b3256"/><rect x="1.4" y="1.3" width="90.6" height="48.9" fill="#a9ecd6"/><rect x="2.6" y="13.6" width="89.5" height="36" fill="#46464e"/><rect x="91.3" y="1.3" width="0.9" height="12.4" fill="#6d8f94"/><rect x="2.4" y="2" width="26.4" height="3.7" fill="#ffffff"/><rect x="3" y="2.6" width="2.2" height="2.6" fill="#2a4aa0"/><rect x="6.4" y="3" width="3" height="1.8" fill="#8aa0d0"/><rect x="10.4" y="3" width="3" height="1.8" fill="#4a70c0"/><rect x="15.2" y="3.2" width="2.2" height="1.6" fill="#3a5ab0"/><rect x="17.6" y="2.6" width="1.8" height="1.4" fill="#f08030"/><rect x="19.6" y="3.2" width="2.6" height="1.6" fill="#7a90d0"/><rect x="23" y="3.4" width="3.6" height="1.2" fill="#4a60c0"/><rect x="30" y="2.2" width="1.4" height="3" fill="#566470"/><rect x="32.1" y="2.2" width="1.4" height="3" fill="#566470"/><rect x="34.2" y="2.2" width="1.4" height="3" fill="#566470"/><rect x="36.3" y="2.2" width="1.4" height="3" fill="#566470"/><rect x="38.4" y="2.2" width="1.4" height="3" fill="#566470"/><rect x="40.5" y="2.2" width="1.4" height="3" fill="#566470"/><rect x="42.6" y="2.2" width="1.4" height="3" fill="#566470"/><rect x="44.7" y="2.2" width="1.4" height="3" fill="#566470"/><rect x="46.8" y="2.2" width="1.4" height="3" fill="#566470"/><rect x="48.9" y="2.2" width="1.4" height="3" fill="#566470"/><rect x="51" y="2.2" width="1.4" height="3" fill="#566470"/><rect x="53.1" y="2.2" width="1.4" height="3" fill="#566470"/><rect x="55.2" y="2.2" width="1.4" height="3" fill="#566470"/><rect x="57.3" y="2.2" width="1.4" height="3" fill="#566470"/><rect x="59.4" y="2.2" width="1.4" height="3" fill="#566470"/><rect x="61.5" y="2.2" width="1.4" height="3" fill="#566470"/><rect x="64.5" y="3.4" width="25" height="0.8" fill="#7f9f98"/><rect x="2.4" y="5.8" width="88.7" height="0.9" fill="#6a7478"/><rect x="2.4" y="9.9" width="88.7" height="0.9" fill="#6a7478"/><rect x="20" y="6.4" width="3.4" height="1" fill="#a9ecd6"/><rect x="44" y="6.4" width="3.4" height="1" fill="#a9ecd6"/><rect x="66" y="6.4" width="3.4" height="1" fill="#a9ecd6"/><rect x="86" y="6.4" width="3.4" height="1" fill="#a9ecd6"/><rect x="28" y="10.5" width="3.4" height="1" fill="#a9ecd6"/><rect x="44" y="10.5" width="3.4" height="1" fill="#a9ecd6"/><rect x="62" y="10.5" width="3.4" height="1" fill="#a9ecd6"/><rect x="86" y="10.5" width="3.4" height="1" fill="#a9ecd6"/><rect x="3.2" y="14.4" width="13.9" height="2.5" fill="#fff200"/><rect x="6.33" y="14" width="7.65" height="0.9" fill="#1c2050"/><rect x="18.2" y="14.4" width="10.9" height="2.5" fill="#fff200"/><rect x="20.65" y="14" width="6" height="0.9" fill="#1c2050"/><rect x="30.4" y="14.4" width="11.2" height="2.5" fill="#fff200"/><rect x="32.92" y="14" width="6.16" height="0.9" fill="#1c2050"/><rect x="42.9" y="14.4" width="11.2" height="2.5" fill="#fff200"/><rect x="45.42" y="14" width="6.16" height="0.9" fill="#1c2050"/><rect x="55.4" y="14.4" width="11.2" height="2.5" fill="#fff200"/><rect x="57.92" y="14" width="6.16" height="0.9" fill="#1c2050"/><rect x="67.7" y="14.4" width="11.4" height="2.5" fill="#fff200"/><rect x="70.27" y="14" width="6.27" height="0.9" fill="#1c2050"/><rect x="80.4" y="14.4" width="10.3" height="2.5" fill="#fff200"/><rect x="82.72" y="14" width="5.66" height="0.9" fill="#1c2050"/><rect x="3.2" y="18.5" width="13.9" height="1.9" fill="#ffffff"/><rect x="6.33" y="18" width="7.65" height="0.9" fill="#3a3c58"/><rect x="18.2" y="18.5" width="10.9" height="1.9" fill="#ffffff"/><rect x="20.65" y="18" width="6" height="0.9" fill="#3a3c58"/><rect x="30.4" y="18.5" width="11.2" height="1.9" fill="#ffffff"/><rect x="32.92" y="18" width="6.16" height="0.9" fill="#3a3c58"/><rect x="42.9" y="18.5" width="11.2" height="1.9" fill="#ffffff"/><rect x="45.42" y="18" width="6.16" height="1.2" fill="#0f956b"/><rect x="55.4" y="18.5" width="11.2" height="1.9" fill="#ffffff"/><rect x="57.92" y="18" width="6.16" height="1.2" fill="#f0642a"/><rect x="67.7" y="18.5" width="11.4" height="1.9" fill="#ffffff"/><rect x="70.27" y="18" width="6.27" height="1.2" fill="#f0642a"/><rect x="80.4" y="18.5" width="10.3" height="1.9" fill="#ffffff"/><rect x="82.72" y="18" width="5.66" height="1.2" fill="#0f956b"/><rect x="3.2" y="22.02" width="13.9" height="1.9" fill="#ffffff"/><rect x="6.33" y="21.52" width="7.65" height="0.9" fill="#3a3c58"/><rect x="18.2" y="22.02" width="10.9" height="1.9" fill="#ffffff"/><rect x="20.65" y="21.52" width="6" height="0.9" fill="#3a3c58"/><rect x="30.4" y="22.02" width="11.2" height="1.9" fill="#ffffff"/><rect x="32.92" y="21.52" width="6.16" height="0.9" fill="#3a3c58"/><rect x="42.9" y="22.02" width="11.2" height="1.9" fill="#ffffff"/><rect x="45.42" y="21.52" width="6.16" height="1.2" fill="#0f956b"/><rect x="55.4" y="22.02" width="11.2" height="1.9" fill="#ffffff"/><rect x="57.92" y="21.52" width="6.16" height="1.2" fill="#f0642a"/><rect x="67.7" y="22.02" width="11.4" height="1.9" fill="#ffffff"/><rect x="70.27" y="21.52" width="6.27" height="1.2" fill="#f0642a"/><rect x="80.4" y="22.02" width="10.3" height="1.9" fill="#ffffff"/><rect x="82.72" y="21.52" width="5.66" height="1.2" fill="#0f956b"/><rect x="3.2" y="25.54" width="13.9" height="1.9" fill="#ffffff"/><rect x="6.33" y="25.04" width="7.65" height="0.9" fill="#3a3c58"/><rect x="18.2" y="25.54" width="10.9" height="1.9" fill="#ffffff"/><rect x="20.65" y="25.04" width="6" height="0.9" fill="#3a3c58"/><rect x="30.4" y="25.54" width="11.2" height="1.9" fill="#ffffff"/><rect x="32.92" y="25.04" width="6.16" height="0.9" fill="#3a3c58"/><rect x="42.9" y="25.54" width="11.2" height="1.9" fill="#ffffff"/><rect x="45.42" y="25.04" width="6.16" height="1.2" fill="#0f956b"/><rect x="55.4" y="25.54" width="11.2" height="1.9" fill="#ffffff"/><rect x="57.92" y="25.04" width="6.16" height="1.2" fill="#f0642a"/><rect x="67.7" y="25.54" width="11.4" height="1.9" fill="#ffffff"/><rect x="70.27" y="25.04" width="6.27" height="1.2" fill="#f0642a"/><rect x="80.4" y="25.54" width="10.3" height="1.9" fill="#ffffff"/><rect x="82.72" y="25.04" width="5.66" height="1.2" fill="#0f956b"/><rect x="3.2" y="29.06" width="13.9" height="1.9" fill="#ffffff"/><rect x="6.33" y="28.56" width="7.65" height="0.9" fill="#3a3c58"/><rect x="18.2" y="29.06" width="10.9" height="1.9" fill="#ffffff"/><rect x="20.65" y="28.56" width="6" height="0.9" fill="#3a3c58"/><rect x="30.4" y="29.06" width="11.2" height="1.9" fill="#ffffff"/><rect x="32.92" y="28.56" width="6.16" height="0.9" fill="#3a3c58"/><rect x="42.9" y="29.06" width="11.2" height="1.9" fill="#ffffff"/><rect x="45.42" y="28.56" width="6.16" height="1.2" fill="#0f956b"/><rect x="55.4" y="29.06" width="11.2" height="1.9" fill="#ffffff"/><rect x="57.92" y="28.56" width="6.16" height="1.2" fill="#f0642a"/><rect x="67.7" y="29.06" width="11.4" height="1.9" fill="#ffffff"/><rect x="70.27" y="28.56" width="6.27" height="1.2" fill="#f0642a"/><rect x="80.4" y="29.06" width="10.3" height="1.9" fill="#ffffff"/><rect x="82.72" y="28.56" width="5.66" height="1.2" fill="#0f956b"/><rect x="3.2" y="32.58" width="13.9" height="1.9" fill="#ffffff"/><rect x="6.33" y="32.08" width="7.65" height="0.9" fill="#3a3c58"/><rect x="18.2" y="32.58" width="10.9" height="1.9" fill="#ffffff"/><rect x="20.65" y="32.08" width="6" height="0.9" fill="#3a3c58"/><rect x="30.4" y="32.58" width="11.2" height="1.9" fill="#ffffff"/><rect x="32.92" y="32.08" width="6.16" height="0.9" fill="#3a3c58"/><rect x="42.9" y="32.58" width="11.2" height="1.9" fill="#ffffff"/><rect x="45.42" y="32.08" width="6.16" height="1.2" fill="#0f956b"/><rect x="55.4" y="32.58" width="11.2" height="1.9" fill="#ffffff"/><rect x="57.92" y="32.08" width="6.16" height="1.2" fill="#f0642a"/><rect x="67.7" y="32.58" width="11.4" height="1.9" fill="#ffffff"/><rect x="70.27" y="32.08" width="6.27" height="1.2" fill="#f0642a"/><rect x="80.4" y="32.58" width="10.3" height="1.9" fill="#ffffff"/><rect x="82.72" y="32.08" width="5.66" height="1.2" fill="#0f956b"/><rect x="3.2" y="36.1" width="13.9" height="1.9" fill="#ffffff"/><rect x="6.33" y="35.6" width="7.65" height="0.9" fill="#3a3c58"/><rect x="18.2" y="36.1" width="10.9" height="1.9" fill="#ffffff"/><rect x="20.65" y="35.6" width="6" height="0.9" fill="#3a3c58"/><rect x="30.4" y="36.1" width="11.2" height="1.9" fill="#ffffff"/><rect x="32.92" y="35.6" width="6.16" height="0.9" fill="#3a3c58"/><rect x="42.9" y="36.1" width="11.2" height="1.9" fill="#ffffff"/><rect x="45.42" y="35.6" width="6.16" height="1.2" fill="#0f956b"/><rect x="55.4" y="36.1" width="11.2" height="1.9" fill="#ffffff"/><rect x="57.92" y="35.6" width="6.16" height="1.2" fill="#f0642a"/><rect x="67.7" y="36.1" width="11.4" height="1.9" fill="#ffffff"/><rect x="70.27" y="35.6" width="6.27" height="1.2" fill="#f0642a"/><rect x="80.4" y="36.1" width="10.3" height="1.9" fill="#ffffff"/><rect x="82.72" y="35.6" width="5.66" height="1.2" fill="#0f956b"/><rect x="3.2" y="39.62" width="13.9" height="1.9" fill="#ffffff"/><rect x="6.33" y="39.12" width="7.65" height="0.9" fill="#3a3c58"/><rect x="18.2" y="39.62" width="10.9" height="1.9" fill="#ffffff"/><rect x="20.65" y="39.12" width="6" height="0.9" fill="#3a3c58"/><rect x="30.4" y="39.62" width="11.2" height="1.9" fill="#ffffff"/><rect x="32.92" y="39.12" width="6.16" height="0.9" fill="#3a3c58"/><rect x="42.9" y="39.62" width="11.2" height="1.9" fill="#ffffff"/><rect x="45.42" y="39.12" width="6.16" height="1.2" fill="#0f956b"/><rect x="55.4" y="39.62" width="11.2" height="1.9" fill="#ffffff"/><rect x="57.92" y="39.12" width="6.16" height="1.2" fill="#f0642a"/><rect x="67.7" y="39.62" width="11.4" height="1.9" fill="#ffffff"/><rect x="70.27" y="39.12" width="6.27" height="1.2" fill="#f0642a"/><rect x="80.4" y="39.62" width="10.3" height="1.9" fill="#ffffff"/><rect x="82.72" y="39.12" width="5.66" height="1.2" fill="#0f956b"/><rect x="3.2" y="42.7" width="13.9" height="6" fill="#f53a05"/><rect x="6.5" y="44.2" width="7.5" height="0.9" fill="#ffd9c8"/><rect x="18.2" y="42.7" width="10.9" height="2.5" fill="#f24a12"/><rect x="18.2" y="46" width="10.9" height="2.7" fill="#a9ecd6"/><rect x="20.4" y="46.6" width="6.5" height="1.3" fill="#d7f7ec"/><rect x="30.4" y="42.7" width="11.2" height="2.5" fill="#f24a12"/><rect x="30.4" y="46" width="11.2" height="2.7" fill="#a9ecd6"/><rect x="32.6" y="46.6" width="6.8" height="1.3" fill="#d7f7ec"/><rect x="42.9" y="42.7" width="11.2" height="2.5" fill="#f24a12"/><rect x="42.9" y="46" width="11.2" height="2.7" fill="#a9ecd6"/><rect x="45.1" y="46.6" width="6.8" height="1.3" fill="#d7f7ec"/><rect x="55.4" y="42.7" width="11.2" height="2.5" fill="#f24a12"/><rect x="55.4" y="46" width="11.2" height="2.7" fill="#a9ecd6"/><rect x="57.6" y="46.6" width="6.8" height="1.3" fill="#d7f7ec"/><rect x="67.7" y="42.7" width="11.4" height="2.5" fill="#f24a12"/><rect x="67.7" y="46" width="11.4" height="2.7" fill="#a9ecd6"/><rect x="69.9" y="46.6" width="7" height="1.3" fill="#d7f7ec"/><rect x="80.4" y="42.7" width="10.3" height="2.5" fill="#f24a12"/><rect x="80.4" y="46" width="10.3" height="2.7" fill="#a9ecd6"/><rect x="82.6" y="46.6" width="5.9" height="1.3" fill="#d7f7ec"/><rect x="45.25" y="50.8" width="3" height="0.9" fill="#8890b0"/></g>
<g transform="translate(159.6 108.1)"><rect x="0" y="0" width="93.5" height="52.4" fill="#2b3256"/><rect x="1.4" y="1.3" width="90.6" height="48.9" fill="#a9ecd6"/><rect x="2.6" y="13.6" width="89.5" height="36" fill="#46464e"/><rect x="91.3" y="1.3" width="0.9" height="12.4" fill="#6d8f94"/><rect x="2.4" y="2" width="26.4" height="3.7" fill="#ffffff"/><rect x="3" y="2.6" width="2.2" height="2.6" fill="#2a4aa0"/><rect x="6.4" y="3" width="3" height="1.8" fill="#8aa0d0"/><rect x="10.4" y="3" width="3" height="1.8" fill="#4a70c0"/><rect x="15.2" y="3.2" width="2.2" height="1.6" fill="#3a5ab0"/><rect x="17.6" y="2.6" width="1.8" height="1.4" fill="#f08030"/><rect x="19.6" y="3.2" width="2.6" height="1.6" fill="#7a90d0"/><rect x="23" y="3.4" width="3.6" height="1.2" fill="#4a60c0"/><rect x="30" y="2.2" width="1.4" height="3" fill="#566470"/><rect x="32.1" y="2.2" width="1.4" height="3" fill="#566470"/><rect x="34.2" y="2.2" width="1.4" height="3" fill="#566470"/><rect x="36.3" y="2.2" width="1.4" height="3" fill="#566470"/><rect x="38.4" y="2.2" width="1.4" height="3" fill="#566470"/><rect x="40.5" y="2.2" width="1.4" height="3" fill="#566470"/><rect x="42.6" y="2.2" width="1.4" height="3" fill="#566470"/><rect x="44.7" y="2.2" width="1.4" height="3" fill="#566470"/><rect x="46.8" y="2.2" width="1.4" height="3" fill="#566470"/><rect x="48.9" y="2.2" width="1.4" height="3" fill="#566470"/><rect x="51" y="2.2" width="1.4" height="3" fill="#566470"/><rect x="53.1" y="2.2" width="1.4" height="3" fill="#566470"/><rect x="55.2" y="2.2" width="1.4" height="3" fill="#566470"/><rect x="57.3" y="2.2" width="1.4" height="3" fill="#566470"/><rect x="59.4" y="2.2" width="1.4" height="3" fill="#566470"/><rect x="61.5" y="2.2" width="1.4" height="3" fill="#566470"/><rect x="64.5" y="3.4" width="25" height="0.8" fill="#7f9f98"/><rect x="2.4" y="5.8" width="88.7" height="0.9" fill="#6a7478"/><rect x="2.4" y="9.9" width="88.7" height="0.9" fill="#6a7478"/><rect x="20" y="6.4" width="3.4" height="1" fill="#a9ecd6"/><rect x="44" y="6.4" width="3.4" height="1" fill="#a9ecd6"/><rect x="66" y="6.4" width="3.4" height="1" fill="#a9ecd6"/><rect x="86" y="6.4" width="3.4" height="1" fill="#a9ecd6"/><rect x="28" y="10.5" width="3.4" height="1" fill="#a9ecd6"/><rect x="44" y="10.5" width="3.4" height="1" fill="#a9ecd6"/><rect x="62" y="10.5" width="3.4" height="1" fill="#a9ecd6"/><rect x="86" y="10.5" width="3.4" height="1" fill="#a9ecd6"/><rect x="3.2" y="14.4" width="13.9" height="2.5" fill="#fff200"/><rect x="6.33" y="14" width="7.65" height="0.9" fill="#1c2050"/><rect x="18.2" y="14.4" width="10.9" height="2.5" fill="#fff200"/><rect x="20.65" y="14" width="6" height="0.9" fill="#1c2050"/><rect x="30.4" y="14.4" width="11.2" height="2.5" fill="#fff200"/><rect x="32.92" y="14" width="6.16" height="0.9" fill="#1c2050"/><rect x="42.9" y="14.4" width="11.2" height="2.5" fill="#fff200"/><rect x="45.42" y="14" width="6.16" height="0.9" fill="#1c2050"/><rect x="55.4" y="14.4" width="11.2" height="2.5" fill="#fff200"/><rect x="57.92" y="14" width="6.16" height="0.9" fill="#1c2050"/><rect x="67.7" y="14.4" width="11.4" height="2.5" fill="#fff200"/><rect x="70.27" y="14" width="6.27" height="0.9" fill="#1c2050"/><rect x="80.4" y="14.4" width="10.3" height="2.5" fill="#fff200"/><rect x="82.72" y="14" width="5.66" height="0.9" fill="#1c2050"/><rect x="3.2" y="18.5" width="13.9" height="1.9" fill="#ffffff"/><rect x="6.33" y="18" width="7.65" height="0.9" fill="#3a3c58"/><rect x="18.2" y="18.5" width="10.9" height="1.9" fill="#ffffff"/><rect x="20.65" y="18" width="6" height="0.9" fill="#3a3c58"/><rect x="30.4" y="18.5" width="11.2" height="1.9" fill="#ffffff"/><rect x="32.92" y="18" width="6.16" height="0.9" fill="#3a3c58"/><rect x="42.9" y="18.5" width="11.2" height="1.9" fill="#ffffff"/><rect x="45.42" y="18" width="6.16" height="1.2" fill="#0f956b"/><rect x="55.4" y="18.5" width="11.2" height="1.9" fill="#ffffff"/><rect x="57.92" y="18" width="6.16" height="1.2" fill="#f0642a"/><rect x="67.7" y="18.5" width="11.4" height="1.9" fill="#ffffff"/><rect x="70.27" y="18" width="6.27" height="1.2" fill="#f0642a"/><rect x="80.4" y="18.5" width="10.3" height="1.9" fill="#ffffff"/><rect x="82.72" y="18" width="5.66" height="1.2" fill="#0f956b"/><rect x="3.2" y="22.02" width="13.9" height="1.9" fill="#ffffff"/><rect x="6.33" y="21.52" width="7.65" height="0.9" fill="#3a3c58"/><rect x="18.2" y="22.02" width="10.9" height="1.9" fill="#ffffff"/><rect x="20.65" y="21.52" width="6" height="0.9" fill="#3a3c58"/><rect x="30.4" y="22.02" width="11.2" height="1.9" fill="#ffffff"/><rect x="32.92" y="21.52" width="6.16" height="0.9" fill="#3a3c58"/><rect x="42.9" y="22.02" width="11.2" height="1.9" fill="#ffffff"/><rect x="45.42" y="21.52" width="6.16" height="1.2" fill="#0f956b"/><rect x="55.4" y="22.02" width="11.2" height="1.9" fill="#ffffff"/><rect x="57.92" y="21.52" width="6.16" height="1.2" fill="#f0642a"/><rect x="67.7" y="22.02" width="11.4" height="1.9" fill="#ffffff"/><rect x="70.27" y="21.52" width="6.27" height="1.2" fill="#f0642a"/><rect x="80.4" y="22.02" width="10.3" height="1.9" fill="#ffffff"/><rect x="82.72" y="21.52" width="5.66" height="1.2" fill="#0f956b"/><rect x="3.2" y="25.54" width="13.9" height="1.9" fill="#ffffff"/><rect x="6.33" y="25.04" width="7.65" height="0.9" fill="#3a3c58"/><rect x="18.2" y="25.54" width="10.9" height="1.9" fill="#ffffff"/><rect x="20.65" y="25.04" width="6" height="0.9" fill="#3a3c58"/><rect x="30.4" y="25.54" width="11.2" height="1.9" fill="#ffffff"/><rect x="32.92" y="25.04" width="6.16" height="0.9" fill="#3a3c58"/><rect x="42.9" y="25.54" width="11.2" height="1.9" fill="#ffffff"/><rect x="45.42" y="25.04" width="6.16" height="1.2" fill="#0f956b"/><rect x="55.4" y="25.54" width="11.2" height="1.9" fill="#ffffff"/><rect x="57.92" y="25.04" width="6.16" height="1.2" fill="#f0642a"/><rect x="67.7" y="25.54" width="11.4" height="1.9" fill="#ffffff"/><rect x="70.27" y="25.04" width="6.27" height="1.2" fill="#f0642a"/><rect x="80.4" y="25.54" width="10.3" height="1.9" fill="#ffffff"/><rect x="82.72" y="25.04" width="5.66" height="1.2" fill="#0f956b"/><rect x="3.2" y="29.06" width="13.9" height="1.9" fill="#ffffff"/><rect x="6.33" y="28.56" width="7.65" height="0.9" fill="#3a3c58"/><rect x="18.2" y="29.06" width="10.9" height="1.9" fill="#ffffff"/><rect x="20.65" y="28.56" width="6" height="0.9" fill="#3a3c58"/><rect x="30.4" y="29.06" width="11.2" height="1.9" fill="#ffffff"/><rect x="32.92" y="28.56" width="6.16" height="0.9" fill="#3a3c58"/><rect x="42.9" y="29.06" width="11.2" height="1.9" fill="#ffffff"/><rect x="45.42" y="28.56" width="6.16" height="1.2" fill="#0f956b"/><rect x="55.4" y="29.06" width="11.2" height="1.9" fill="#ffffff"/><rect x="57.92" y="28.56" width="6.16" height="1.2" fill="#f0642a"/><rect x="67.7" y="29.06" width="11.4" height="1.9" fill="#ffffff"/><rect x="70.27" y="28.56" width="6.27" height="1.2" fill="#f0642a"/><rect x="80.4" y="29.06" width="10.3" height="1.9" fill="#ffffff"/><rect x="82.72" y="28.56" width="5.66" height="1.2" fill="#0f956b"/><rect x="3.2" y="32.58" width="13.9" height="1.9" fill="#ffffff"/><rect x="6.33" y="32.08" width="7.65" height="0.9" fill="#3a3c58"/><rect x="18.2" y="32.58" width="10.9" height="1.9" fill="#ffffff"/><rect x="20.65" y="32.08" width="6" height="0.9" fill="#3a3c58"/><rect x="30.4" y="32.58" width="11.2" height="1.9" fill="#ffffff"/><rect x="32.92" y="32.08" width="6.16" height="0.9" fill="#3a3c58"/><rect x="42.9" y="32.58" width="11.2" height="1.9" fill="#ffffff"/><rect x="45.42" y="32.08" width="6.16" height="1.2" fill="#0f956b"/><rect x="55.4" y="32.58" width="11.2" height="1.9" fill="#ffffff"/><rect x="57.92" y="32.08" width="6.16" height="1.2" fill="#f0642a"/><rect x="67.7" y="32.58" width="11.4" height="1.9" fill="#ffffff"/><rect x="70.27" y="32.08" width="6.27" height="1.2" fill="#f0642a"/><rect x="80.4" y="32.58" width="10.3" height="1.9" fill="#ffffff"/><rect x="82.72" y="32.08" width="5.66" height="1.2" fill="#0f956b"/><rect x="3.2" y="36.1" width="13.9" height="1.9" fill="#ffffff"/><rect x="6.33" y="35.6" width="7.65" height="0.9" fill="#3a3c58"/><rect x="18.2" y="36.1" width="10.9" height="1.9" fill="#ffffff"/><rect x="20.65" y="35.6" width="6" height="0.9" fill="#3a3c58"/><rect x="30.4" y="36.1" width="11.2" height="1.9" fill="#ffffff"/><rect x="32.92" y="35.6" width="6.16" height="0.9" fill="#3a3c58"/><rect x="42.9" y="36.1" width="11.2" height="1.9" fill="#ffffff"/><rect x="45.42" y="35.6" width="6.16" height="1.2" fill="#0f956b"/><rect x="55.4" y="36.1" width="11.2" height="1.9" fill="#ffffff"/><rect x="57.92" y="35.6" width="6.16" height="1.2" fill="#f0642a"/><rect x="67.7" y="36.1" width="11.4" height="1.9" fill="#ffffff"/><rect x="70.27" y="35.6" width="6.27" height="1.2" fill="#f0642a"/><rect x="80.4" y="36.1" width="10.3" height="1.9" fill="#ffffff"/><rect x="82.72" y="35.6" width="5.66" height="1.2" fill="#0f956b"/><rect x="3.2" y="39.62" width="13.9" height="1.9" fill="#ffffff"/><rect x="6.33" y="39.12" width="7.65" height="0.9" fill="#3a3c58"/><rect x="18.2" y="39.62" width="10.9" height="1.9" fill="#ffffff"/><rect x="20.65" y="39.12" width="6" height="0.9" fill="#3a3c58"/><rect x="30.4" y="39.62" width="11.2" height="1.9" fill="#ffffff"/><rect x="32.92" y="39.12" width="6.16" height="0.9" fill="#3a3c58"/><rect x="42.9" y="39.62" width="11.2" height="1.9" fill="#ffffff"/><rect x="45.42" y="39.12" width="6.16" height="1.2" fill="#0f956b"/><rect x="55.4" y="39.62" width="11.2" height="1.9" fill="#ffffff"/><rect x="57.92" y="39.12" width="6.16" height="1.2" fill="#f0642a"/><rect x="67.7" y="39.62" width="11.4" height="1.9" fill="#ffffff"/><rect x="70.27" y="39.12" width="6.27" height="1.2" fill="#f0642a"/><rect x="80.4" y="39.62" width="10.3" height="1.9" fill="#ffffff"/><rect x="82.72" y="39.12" width="5.66" height="1.2" fill="#0f956b"/><rect x="3.2" y="42.7" width="13.9" height="6" fill="#f53a05"/><rect x="6.5" y="44.2" width="7.5" height="0.9" fill="#ffd9c8"/><rect x="18.2" y="42.7" width="10.9" height="2.5" fill="#f24a12"/><rect x="18.2" y="46" width="10.9" height="2.7" fill="#a9ecd6"/><rect x="20.4" y="46.6" width="6.5" height="1.3" fill="#d7f7ec"/><rect x="30.4" y="42.7" width="11.2" height="2.5" fill="#f24a12"/><rect x="30.4" y="46" width="11.2" height="2.7" fill="#a9ecd6"/><rect x="32.6" y="46.6" width="6.8" height="1.3" fill="#d7f7ec"/><rect x="42.9" y="42.7" width="11.2" height="2.5" fill="#f24a12"/><rect x="42.9" y="46" width="11.2" height="2.7" fill="#a9ecd6"/><rect x="45.1" y="46.6" width="6.8" height="1.3" fill="#d7f7ec"/><rect x="55.4" y="42.7" width="11.2" height="2.5" fill="#f24a12"/><rect x="55.4" y="46" width="11.2" height="2.7" fill="#a9ecd6"/><rect x="57.6" y="46.6" width="6.8" height="1.3" fill="#d7f7ec"/><rect x="67.7" y="42.7" width="11.4" height="2.5" fill="#f24a12"/><rect x="67.7" y="46" width="11.4" height="2.7" fill="#a9ecd6"/><rect x="69.9" y="46.6" width="7" height="1.3" fill="#d7f7ec"/><rect x="80.4" y="42.7" width="10.3" height="2.5" fill="#f24a12"/><rect x="80.4" y="46" width="10.3" height="2.7" fill="#a9ecd6"/><rect x="82.6" y="46.6" width="5.9" height="1.3" fill="#d7f7ec"/><rect x="45.25" y="50.8" width="3" height="0.9" fill="#8890b0"/></g>
<g transform="translate(278.2 108.1)"><rect x="0" y="0" width="93.5" height="52.4" fill="#2b3256"/><rect x="1.4" y="1.3" width="90.6" height="48.9" fill="#a9ecd6"/><rect x="2.6" y="13.6" width="89.5" height="36" fill="#46464e"/><rect x="91.3" y="1.3" width="0.9" height="12.4" fill="#6d8f94"/><rect x="2.4" y="2" width="26.4" height="3.7" fill="#ffffff"/><rect x="3" y="2.6" width="2.2" height="2.6" fill="#2a4aa0"/><rect x="6.4" y="3" width="3" height="1.8" fill="#8aa0d0"/><rect x="10.4" y="3" width="3" height="1.8" fill="#4a70c0"/><rect x="15.2" y="3.2" width="2.2" height="1.6" fill="#3a5ab0"/><rect x="17.6" y="2.6" width="1.8" height="1.4" fill="#f08030"/><rect x="19.6" y="3.2" width="2.6" height="1.6" fill="#7a90d0"/><rect x="23" y="3.4" width="3.6" height="1.2" fill="#4a60c0"/><rect x="30" y="2.2" width="1.4" height="3" fill="#566470"/><rect x="32.1" y="2.2" width="1.4" height="3" fill="#566470"/><rect x="34.2" y="2.2" width="1.4" height="3" fill="#566470"/><rect x="36.3" y="2.2" width="1.4" height="3" fill="#566470"/><rect x="38.4" y="2.2" width="1.4" height="3" fill="#566470"/><rect x="40.5" y="2.2" width="1.4" height="3" fill="#566470"/><rect x="42.6" y="2.2" width="1.4" height="3" fill="#566470"/><rect x="44.7" y="2.2" width="1.4" height="3" fill="#566470"/><rect x="46.8" y="2.2" width="1.4" height="3" fill="#566470"/><rect x="48.9" y="2.2" width="1.4" height="3" fill="#566470"/><rect x="51" y="2.2" width="1.4" height="3" fill="#566470"/><rect x="53.1" y="2.2" width="1.4" height="3" fill="#566470"/><rect x="55.2" y="2.2" width="1.4" height="3" fill="#566470"/><rect x="57.3" y="2.2" width="1.4" height="3" fill="#566470"/><rect x="59.4" y="2.2" width="1.4" height="3" fill="#566470"/><rect x="61.5" y="2.2" width="1.4" height="3" fill="#566470"/><rect x="64.5" y="3.4" width="25" height="0.8" fill="#7f9f98"/><rect x="2.4" y="5.8" width="88.7" height="0.9" fill="#6a7478"/><rect x="2.4" y="9.9" width="88.7" height="0.9" fill="#6a7478"/><rect x="20" y="6.4" width="3.4" height="1" fill="#a9ecd6"/><rect x="44" y="6.4" width="3.4" height="1" fill="#a9ecd6"/><rect x="66" y="6.4" width="3.4" height="1" fill="#a9ecd6"/><rect x="86" y="6.4" width="3.4" height="1" fill="#a9ecd6"/><rect x="28" y="10.5" width="3.4" height="1" fill="#a9ecd6"/><rect x="44" y="10.5" width="3.4" height="1" fill="#a9ecd6"/><rect x="62" y="10.5" width="3.4" height="1" fill="#a9ecd6"/><rect x="86" y="10.5" width="3.4" height="1" fill="#a9ecd6"/><rect x="3.2" y="14.4" width="13.9" height="2.5" fill="#fff200"/><rect x="6.33" y="14" width="7.65" height="0.9" fill="#1c2050"/><rect x="18.2" y="14.4" width="10.9" height="2.5" fill="#fff200"/><rect x="20.65" y="14" width="6" height="0.9" fill="#1c2050"/><rect x="30.4" y="14.4" width="11.2" height="2.5" fill="#fff200"/><rect x="32.92" y="14" width="6.16" height="0.9" fill="#1c2050"/><rect x="42.9" y="14.4" width="11.2" height="2.5" fill="#fff200"/><rect x="45.42" y="14" width="6.16" height="0.9" fill="#1c2050"/><rect x="55.4" y="14.4" width="11.2" height="2.5" fill="#fff200"/><rect x="57.92" y="14" width="6.16" height="0.9" fill="#1c2050"/><rect x="67.7" y="14.4" width="11.4" height="2.5" fill="#fff200"/><rect x="70.27" y="14" width="6.27" height="0.9" fill="#1c2050"/><rect x="80.4" y="14.4" width="10.3" height="2.5" fill="#fff200"/><rect x="82.72" y="14" width="5.66" height="0.9" fill="#1c2050"/><rect x="3.2" y="18.5" width="13.9" height="1.9" fill="#ffffff"/><rect x="6.33" y="18" width="7.65" height="0.9" fill="#3a3c58"/><rect x="18.2" y="18.5" width="10.9" height="1.9" fill="#ffffff"/><rect x="20.65" y="18" width="6" height="0.9" fill="#3a3c58"/><rect x="30.4" y="18.5" width="11.2" height="1.9" fill="#ffffff"/><rect x="32.92" y="18" width="6.16" height="0.9" fill="#3a3c58"/><rect x="42.9" y="18.5" width="11.2" height="1.9" fill="#ffffff"/><rect x="45.42" y="18" width="6.16" height="1.2" fill="#0f956b"/><rect x="55.4" y="18.5" width="11.2" height="1.9" fill="#ffffff"/><rect x="57.92" y="18" width="6.16" height="1.2" fill="#f0642a"/><rect x="67.7" y="18.5" width="11.4" height="1.9" fill="#ffffff"/><rect x="70.27" y="18" width="6.27" height="1.2" fill="#f0642a"/><rect x="80.4" y="18.5" width="10.3" height="1.9" fill="#ffffff"/><rect x="82.72" y="18" width="5.66" height="1.2" fill="#0f956b"/><rect x="3.2" y="22.02" width="13.9" height="1.9" fill="#ffffff"/><rect x="6.33" y="21.52" width="7.65" height="0.9" fill="#3a3c58"/><rect x="18.2" y="22.02" width="10.9" height="1.9" fill="#ffffff"/><rect x="20.65" y="21.52" width="6" height="0.9" fill="#3a3c58"/><rect x="30.4" y="22.02" width="11.2" height="1.9" fill="#ffffff"/><rect x="32.92" y="21.52" width="6.16" height="0.9" fill="#3a3c58"/><rect x="42.9" y="22.02" width="11.2" height="1.9" fill="#ffffff"/><rect x="45.42" y="21.52" width="6.16" height="1.2" fill="#0f956b"/><rect x="55.4" y="22.02" width="11.2" height="1.9" fill="#ffffff"/><rect x="57.92" y="21.52" width="6.16" height="1.2" fill="#f0642a"/><rect x="67.7" y="22.02" width="11.4" height="1.9" fill="#ffffff"/><rect x="70.27" y="21.52" width="6.27" height="1.2" fill="#f0642a"/><rect x="80.4" y="22.02" width="10.3" height="1.9" fill="#ffffff"/><rect x="82.72" y="21.52" width="5.66" height="1.2" fill="#0f956b"/><rect x="3.2" y="25.54" width="13.9" height="1.9" fill="#ffffff"/><rect x="6.33" y="25.04" width="7.65" height="0.9" fill="#3a3c58"/><rect x="18.2" y="25.54" width="10.9" height="1.9" fill="#ffffff"/><rect x="20.65" y="25.04" width="6" height="0.9" fill="#3a3c58"/><rect x="30.4" y="25.54" width="11.2" height="1.9" fill="#ffffff"/><rect x="32.92" y="25.04" width="6.16" height="0.9" fill="#3a3c58"/><rect x="42.9" y="25.54" width="11.2" height="1.9" fill="#ffffff"/><rect x="45.42" y="25.04" width="6.16" height="1.2" fill="#0f956b"/><rect x="55.4" y="25.54" width="11.2" height="1.9" fill="#ffffff"/><rect x="57.92" y="25.04" width="6.16" height="1.2" fill="#f0642a"/><rect x="67.7" y="25.54" width="11.4" height="1.9" fill="#ffffff"/><rect x="70.27" y="25.04" width="6.27" height="1.2" fill="#f0642a"/><rect x="80.4" y="25.54" width="10.3" height="1.9" fill="#ffffff"/><rect x="82.72" y="25.04" width="5.66" height="1.2" fill="#0f956b"/><rect x="3.2" y="29.06" width="13.9" height="1.9" fill="#ffffff"/><rect x="6.33" y="28.56" width="7.65" height="0.9" fill="#3a3c58"/><rect x="18.2" y="29.06" width="10.9" height="1.9" fill="#ffffff"/><rect x="20.65" y="28.56" width="6" height="0.9" fill="#3a3c58"/><rect x="30.4" y="29.06" width="11.2" height="1.9" fill="#ffffff"/><rect x="32.92" y="28.56" width="6.16" height="0.9" fill="#3a3c58"/><rect x="42.9" y="29.06" width="11.2" height="1.9" fill="#ffffff"/><rect x="45.42" y="28.56" width="6.16" height="1.2" fill="#0f956b"/><rect x="55.4" y="29.06" width="11.2" height="1.9" fill="#ffffff"/><rect x="57.92" y="28.56" width="6.16" height="1.2" fill="#f0642a"/><rect x="67.7" y="29.06" width="11.4" height="1.9" fill="#ffffff"/><rect x="70.27" y="28.56" width="6.27" height="1.2" fill="#f0642a"/><rect x="80.4" y="29.06" width="10.3" height="1.9" fill="#ffffff"/><rect x="82.72" y="28.56" width="5.66" height="1.2" fill="#0f956b"/><rect x="3.2" y="32.58" width="13.9" height="1.9" fill="#ffffff"/><rect x="6.33" y="32.08" width="7.65" height="0.9" fill="#3a3c58"/><rect x="18.2" y="32.58" width="10.9" height="1.9" fill="#ffffff"/><rect x="20.65" y="32.08" width="6" height="0.9" fill="#3a3c58"/><rect x="30.4" y="32.58" width="11.2" height="1.9" fill="#ffffff"/><rect x="32.92" y="32.08" width="6.16" height="0.9" fill="#3a3c58"/><rect x="42.9" y="32.58" width="11.2" height="1.9" fill="#ffffff"/><rect x="45.42" y="32.08" width="6.16" height="1.2" fill="#0f956b"/><rect x="55.4" y="32.58" width="11.2" height="1.9" fill="#ffffff"/><rect x="57.92" y="32.08" width="6.16" height="1.2" fill="#f0642a"/><rect x="67.7" y="32.58" width="11.4" height="1.9" fill="#ffffff"/><rect x="70.27" y="32.08" width="6.27" height="1.2" fill="#f0642a"/><rect x="80.4" y="32.58" width="10.3" height="1.9" fill="#ffffff"/><rect x="82.72" y="32.08" width="5.66" height="1.2" fill="#0f956b"/><rect x="3.2" y="36.1" width="13.9" height="1.9" fill="#ffffff"/><rect x="6.33" y="35.6" width="7.65" height="0.9" fill="#3a3c58"/><rect x="18.2" y="36.1" width="10.9" height="1.9" fill="#ffffff"/><rect x="20.65" y="35.6" width="6" height="0.9" fill="#3a3c58"/><rect x="30.4" y="36.1" width="11.2" height="1.9" fill="#ffffff"/><rect x="32.92" y="35.6" width="6.16" height="0.9" fill="#3a3c58"/><rect x="42.9" y="36.1" width="11.2" height="1.9" fill="#ffffff"/><rect x="45.42" y="35.6" width="6.16" height="1.2" fill="#0f956b"/><rect x="55.4" y="36.1" width="11.2" height="1.9" fill="#ffffff"/><rect x="57.92" y="35.6" width="6.16" height="1.2" fill="#f0642a"/><rect x="67.7" y="36.1" width="11.4" height="1.9" fill="#ffffff"/><rect x="70.27" y="35.6" width="6.27" height="1.2" fill="#f0642a"/><rect x="80.4" y="36.1" width="10.3" height="1.9" fill="#ffffff"/><rect x="82.72" y="35.6" width="5.66" height="1.2" fill="#0f956b"/><rect x="3.2" y="39.62" width="13.9" height="1.9" fill="#ffffff"/><rect x="6.33" y="39.12" width="7.65" height="0.9" fill="#3a3c58"/><rect x="18.2" y="39.62" width="10.9" height="1.9" fill="#ffffff"/><rect x="20.65" y="39.12" width="6" height="0.9" fill="#3a3c58"/><rect x="30.4" y="39.62" width="11.2" height="1.9" fill="#ffffff"/><rect x="32.92" y="39.12" width="6.16" height="0.9" fill="#3a3c58"/><rect x="42.9" y="39.62" width="11.2" height="1.9" fill="#ffffff"/><rect x="45.42" y="39.12" width="6.16" height="1.2" fill="#0f956b"/><rect x="55.4" y="39.62" width="11.2" height="1.9" fill="#ffffff"/><rect x="57.92" y="39.12" width="6.16" height="1.2" fill="#f0642a"/><rect x="67.7" y="39.62" width="11.4" height="1.9" fill="#ffffff"/><rect x="70.27" y="39.12" width="6.27" height="1.2" fill="#f0642a"/><rect x="80.4" y="39.62" width="10.3" height="1.9" fill="#ffffff"/><rect x="82.72" y="39.12" width="5.66" height="1.2" fill="#0f956b"/><rect x="3.2" y="42.7" width="13.9" height="6" fill="#f53a05"/><rect x="6.5" y="44.2" width="7.5" height="0.9" fill="#ffd9c8"/><rect x="18.2" y="42.7" width="10.9" height="2.5" fill="#f24a12"/><rect x="18.2" y="46" width="10.9" height="2.7" fill="#a9ecd6"/><rect x="20.4" y="46.6" width="6.5" height="1.3" fill="#d7f7ec"/><rect x="30.4" y="42.7" width="11.2" height="2.5" fill="#f24a12"/><rect x="30.4" y="46" width="11.2" height="2.7" fill="#a9ecd6"/><rect x="32.6" y="46.6" width="6.8" height="1.3" fill="#d7f7ec"/><rect x="42.9" y="42.7" width="11.2" height="2.5" fill="#f24a12"/><rect x="42.9" y="46" width="11.2" height="2.7" fill="#a9ecd6"/><rect x="45.1" y="46.6" width="6.8" height="1.3" fill="#d7f7ec"/><rect x="55.4" y="42.7" width="11.2" height="2.5" fill="#f24a12"/><rect x="55.4" y="46" width="11.2" height="2.7" fill="#a9ecd6"/><rect x="57.6" y="46.6" width="6.8" height="1.3" fill="#d7f7ec"/><rect x="67.7" y="42.7" width="11.4" height="2.5" fill="#f24a12"/><rect x="67.7" y="46" width="11.4" height="2.7" fill="#a9ecd6"/><rect x="69.9" y="46.6" width="7" height="1.3" fill="#d7f7ec"/><rect x="80.4" y="42.7" width="10.3" height="2.5" fill="#f24a12"/><rect x="80.4" y="46" width="10.3" height="2.7" fill="#a9ecd6"/><rect x="82.6" y="46.6" width="5.9" height="1.3" fill="#d7f7ec"/><rect x="45.25" y="50.8" width="3" height="0.9" fill="#8890b0"/></g>
<g transform="translate(400 108.1)"><rect x="0" y="0" width="93.5" height="52.4" fill="#2b3256"/><rect x="1.4" y="1.3" width="90.6" height="48.9" fill="#a9ecd6"/><rect x="2.6" y="13.6" width="89.5" height="36" fill="#46464e"/><rect x="91.3" y="1.3" width="0.9" height="12.4" fill="#6d8f94"/><rect x="2.4" y="2" width="26.4" height="3.7" fill="#ffffff"/><rect x="3" y="2.6" width="2.2" height="2.6" fill="#2a4aa0"/><rect x="6.4" y="3" width="3" height="1.8" fill="#8aa0d0"/><rect x="10.4" y="3" width="3" height="1.8" fill="#4a70c0"/><rect x="15.2" y="3.2" width="2.2" height="1.6" fill="#3a5ab0"/><rect x="17.6" y="2.6" width="1.8" height="1.4" fill="#f08030"/><rect x="19.6" y="3.2" width="2.6" height="1.6" fill="#7a90d0"/><rect x="23" y="3.4" width="3.6" height="1.2" fill="#4a60c0"/><rect x="30" y="2.2" width="1.4" height="3" fill="#566470"/><rect x="32.1" y="2.2" width="1.4" height="3" fill="#566470"/><rect x="34.2" y="2.2" width="1.4" height="3" fill="#566470"/><rect x="36.3" y="2.2" width="1.4" height="3" fill="#566470"/><rect x="38.4" y="2.2" width="1.4" height="3" fill="#566470"/><rect x="40.5" y="2.2" width="1.4" height="3" fill="#566470"/><rect x="42.6" y="2.2" width="1.4" height="3" fill="#566470"/><rect x="44.7" y="2.2" width="1.4" height="3" fill="#566470"/><rect x="46.8" y="2.2" width="1.4" height="3" fill="#566470"/><rect x="48.9" y="2.2" width="1.4" height="3" fill="#566470"/><rect x="51" y="2.2" width="1.4" height="3" fill="#566470"/><rect x="53.1" y="2.2" width="1.4" height="3" fill="#566470"/><rect x="55.2" y="2.2" width="1.4" height="3" fill="#566470"/><rect x="57.3" y="2.2" width="1.4" height="3" fill="#566470"/><rect x="59.4" y="2.2" width="1.4" height="3" fill="#566470"/><rect x="61.5" y="2.2" width="1.4" height="3" fill="#566470"/><rect x="64.5" y="3.4" width="25" height="0.8" fill="#7f9f98"/><rect x="2.4" y="5.8" width="88.7" height="0.9" fill="#6a7478"/><rect x="2.4" y="9.9" width="88.7" height="0.9" fill="#6a7478"/><rect x="20" y="6.4" width="3.4" height="1" fill="#a9ecd6"/><rect x="44" y="6.4" width="3.4" height="1" fill="#a9ecd6"/><rect x="66" y="6.4" width="3.4" height="1" fill="#a9ecd6"/><rect x="86" y="6.4" width="3.4" height="1" fill="#a9ecd6"/><rect x="28" y="10.5" width="3.4" height="1" fill="#a9ecd6"/><rect x="44" y="10.5" width="3.4" height="1" fill="#a9ecd6"/><rect x="62" y="10.5" width="3.4" height="1" fill="#a9ecd6"/><rect x="86" y="10.5" width="3.4" height="1" fill="#a9ecd6"/><rect x="3.2" y="14.4" width="13.9" height="2.5" fill="#fff200"/><rect x="6.33" y="14" width="7.65" height="0.9" fill="#1c2050"/><rect x="18.2" y="14.4" width="10.9" height="2.5" fill="#fff200"/><rect x="20.65" y="14" width="6" height="0.9" fill="#1c2050"/><rect x="30.4" y="14.4" width="11.2" height="2.5" fill="#fff200"/><rect x="32.92" y="14" width="6.16" height="0.9" fill="#1c2050"/><rect x="42.9" y="14.4" width="11.2" height="2.5" fill="#fff200"/><rect x="45.42" y="14" width="6.16" height="0.9" fill="#1c2050"/><rect x="55.4" y="14.4" width="11.2" height="2.5" fill="#fff200"/><rect x="57.92" y="14" width="6.16" height="0.9" fill="#1c2050"/><rect x="67.7" y="14.4" width="11.4" height="2.5" fill="#fff200"/><rect x="70.27" y="14" width="6.27" height="0.9" fill="#1c2050"/><rect x="80.4" y="14.4" width="10.3" height="2.5" fill="#fff200"/><rect x="82.72" y="14" width="5.66" height="0.9" fill="#1c2050"/><rect x="3.2" y="18.5" width="13.9" height="1.9" fill="#ffffff"/><rect x="6.33" y="18" width="7.65" height="0.9" fill="#3a3c58"/><rect x="18.2" y="18.5" width="10.9" height="1.9" fill="#ffffff"/><rect x="20.65" y="18" width="6" height="0.9" fill="#3a3c58"/><rect x="30.4" y="18.5" width="11.2" height="1.9" fill="#ffffff"/><rect x="32.92" y="18" width="6.16" height="0.9" fill="#3a3c58"/><rect x="42.9" y="18.5" width="11.2" height="1.9" fill="#ffffff"/><rect x="45.42" y="18" width="6.16" height="1.2" fill="#0f956b"/><rect x="55.4" y="18.5" width="11.2" height="1.9" fill="#ffffff"/><rect x="57.92" y="18" width="6.16" height="1.2" fill="#f0642a"/><rect x="67.7" y="18.5" width="11.4" height="1.9" fill="#ffffff"/><rect x="70.27" y="18" width="6.27" height="1.2" fill="#f0642a"/><rect x="80.4" y="18.5" width="10.3" height="1.9" fill="#ffffff"/><rect x="82.72" y="18" width="5.66" height="1.2" fill="#0f956b"/><rect x="3.2" y="22.02" width="13.9" height="1.9" fill="#ffffff"/><rect x="6.33" y="21.52" width="7.65" height="0.9" fill="#3a3c58"/><rect x="18.2" y="22.02" width="10.9" height="1.9" fill="#ffffff"/><rect x="20.65" y="21.52" width="6" height="0.9" fill="#3a3c58"/><rect x="30.4" y="22.02" width="11.2" height="1.9" fill="#ffffff"/><rect x="32.92" y="21.52" width="6.16" height="0.9" fill="#3a3c58"/><rect x="42.9" y="22.02" width="11.2" height="1.9" fill="#ffffff"/><rect x="45.42" y="21.52" width="6.16" height="1.2" fill="#0f956b"/><rect x="55.4" y="22.02" width="11.2" height="1.9" fill="#ffffff"/><rect x="57.92" y="21.52" width="6.16" height="1.2" fill="#f0642a"/><rect x="67.7" y="22.02" width="11.4" height="1.9" fill="#ffffff"/><rect x="70.27" y="21.52" width="6.27" height="1.2" fill="#f0642a"/><rect x="80.4" y="22.02" width="10.3" height="1.9" fill="#ffffff"/><rect x="82.72" y="21.52" width="5.66" height="1.2" fill="#0f956b"/><rect x="3.2" y="25.54" width="13.9" height="1.9" fill="#ffffff"/><rect x="6.33" y="25.04" width="7.65" height="0.9" fill="#3a3c58"/><rect x="18.2" y="25.54" width="10.9" height="1.9" fill="#ffffff"/><rect x="20.65" y="25.04" width="6" height="0.9" fill="#3a3c58"/><rect x="30.4" y="25.54" width="11.2" height="1.9" fill="#ffffff"/><rect x="32.92" y="25.04" width="6.16" height="0.9" fill="#3a3c58"/><rect x="42.9" y="25.54" width="11.2" height="1.9" fill="#ffffff"/><rect x="45.42" y="25.04" width="6.16" height="1.2" fill="#0f956b"/><rect x="55.4" y="25.54" width="11.2" height="1.9" fill="#ffffff"/><rect x="57.92" y="25.04" width="6.16" height="1.2" fill="#f0642a"/><rect x="67.7" y="25.54" width="11.4" height="1.9" fill="#ffffff"/><rect x="70.27" y="25.04" width="6.27" height="1.2" fill="#f0642a"/><rect x="80.4" y="25.54" width="10.3" height="1.9" fill="#ffffff"/><rect x="82.72" y="25.04" width="5.66" height="1.2" fill="#0f956b"/><rect x="3.2" y="29.06" width="13.9" height="1.9" fill="#ffffff"/><rect x="6.33" y="28.56" width="7.65" height="0.9" fill="#3a3c58"/><rect x="18.2" y="29.06" width="10.9" height="1.9" fill="#ffffff"/><rect x="20.65" y="28.56" width="6" height="0.9" fill="#3a3c58"/><rect x="30.4" y="29.06" width="11.2" height="1.9" fill="#ffffff"/><rect x="32.92" y="28.56" width="6.16" height="0.9" fill="#3a3c58"/><rect x="42.9" y="29.06" width="11.2" height="1.9" fill="#ffffff"/><rect x="45.42" y="28.56" width="6.16" height="1.2" fill="#0f956b"/><rect x="55.4" y="29.06" width="11.2" height="1.9" fill="#ffffff"/><rect x="57.92" y="28.56" width="6.16" height="1.2" fill="#f0642a"/><rect x="67.7" y="29.06" width="11.4" height="1.9" fill="#ffffff"/><rect x="70.27" y="28.56" width="6.27" height="1.2" fill="#f0642a"/><rect x="80.4" y="29.06" width="10.3" height="1.9" fill="#ffffff"/><rect x="82.72" y="28.56" width="5.66" height="1.2" fill="#0f956b"/><rect x="3.2" y="32.58" width="13.9" height="1.9" fill="#ffffff"/><rect x="6.33" y="32.08" width="7.65" height="0.9" fill="#3a3c58"/><rect x="18.2" y="32.58" width="10.9" height="1.9" fill="#ffffff"/><rect x="20.65" y="32.08" width="6" height="0.9" fill="#3a3c58"/><rect x="30.4" y="32.58" width="11.2" height="1.9" fill="#ffffff"/><rect x="32.92" y="32.08" width="6.16" height="0.9" fill="#3a3c58"/><rect x="42.9" y="32.58" width="11.2" height="1.9" fill="#ffffff"/><rect x="45.42" y="32.08" width="6.16" height="1.2" fill="#0f956b"/><rect x="55.4" y="32.58" width="11.2" height="1.9" fill="#ffffff"/><rect x="57.92" y="32.08" width="6.16" height="1.2" fill="#f0642a"/><rect x="67.7" y="32.58" width="11.4" height="1.9" fill="#ffffff"/><rect x="70.27" y="32.08" width="6.27" height="1.2" fill="#f0642a"/><rect x="80.4" y="32.58" width="10.3" height="1.9" fill="#ffffff"/><rect x="82.72" y="32.08" width="5.66" height="1.2" fill="#0f956b"/><rect x="3.2" y="36.1" width="13.9" height="1.9" fill="#ffffff"/><rect x="6.33" y="35.6" width="7.65" height="0.9" fill="#3a3c58"/><rect x="18.2" y="36.1" width="10.9" height="1.9" fill="#ffffff"/><rect x="20.65" y="35.6" width="6" height="0.9" fill="#3a3c58"/><rect x="30.4" y="36.1" width="11.2" height="1.9" fill="#ffffff"/><rect x="32.92" y="35.6" width="6.16" height="0.9" fill="#3a3c58"/><rect x="42.9" y="36.1" width="11.2" height="1.9" fill="#ffffff"/><rect x="45.42" y="35.6" width="6.16" height="1.2" fill="#0f956b"/><rect x="55.4" y="36.1" width="11.2" height="1.9" fill="#ffffff"/><rect x="57.92" y="35.6" width="6.16" height="1.2" fill="#f0642a"/><rect x="67.7" y="36.1" width="11.4" height="1.9" fill="#ffffff"/><rect x="70.27" y="35.6" width="6.27" height="1.2" fill="#f0642a"/><rect x="80.4" y="36.1" width="10.3" height="1.9" fill="#ffffff"/><rect x="82.72" y="35.6" width="5.66" height="1.2" fill="#0f956b"/><rect x="3.2" y="39.62" width="13.9" height="1.9" fill="#ffffff"/><rect x="6.33" y="39.12" width="7.65" height="0.9" fill="#3a3c58"/><rect x="18.2" y="39.62" width="10.9" height="1.9" fill="#ffffff"/><rect x="20.65" y="39.12" width="6" height="0.9" fill="#3a3c58"/><rect x="30.4" y="39.62" width="11.2" height="1.9" fill="#ffffff"/><rect x="32.92" y="39.12" width="6.16" height="0.9" fill="#3a3c58"/><rect x="42.9" y="39.62" width="11.2" height="1.9" fill="#ffffff"/><rect x="45.42" y="39.12" width="6.16" height="1.2" fill="#0f956b"/><rect x="55.4" y="39.62" width="11.2" height="1.9" fill="#ffffff"/><rect x="57.92" y="39.12" width="6.16" height="1.2" fill="#f0642a"/><rect x="67.7" y="39.62" width="11.4" height="1.9" fill="#ffffff"/><rect x="70.27" y="39.12" width="6.27" height="1.2" fill="#f0642a"/><rect x="80.4" y="39.62" width="10.3" height="1.9" fill="#ffffff"/><rect x="82.72" y="39.12" width="5.66" height="1.2" fill="#0f956b"/><rect x="3.2" y="42.7" width="13.9" height="6" fill="#f53a05"/><rect x="6.5" y="44.2" width="7.5" height="0.9" fill="#ffd9c8"/><rect x="18.2" y="42.7" width="10.9" height="2.5" fill="#f24a12"/><rect x="18.2" y="46" width="10.9" height="2.7" fill="#a9ecd6"/><rect x="20.4" y="46.6" width="6.5" height="1.3" fill="#d7f7ec"/><rect x="30.4" y="42.7" width="11.2" height="2.5" fill="#f24a12"/><rect x="30.4" y="46" width="11.2" height="2.7" fill="#a9ecd6"/><rect x="32.6" y="46.6" width="6.8" height="1.3" fill="#d7f7ec"/><rect x="42.9" y="42.7" width="11.2" height="2.5" fill="#f24a12"/><rect x="42.9" y="46" width="11.2" height="2.7" fill="#a9ecd6"/><rect x="45.1" y="46.6" width="6.8" height="1.3" fill="#d7f7ec"/><rect x="55.4" y="42.7" width="11.2" height="2.5" fill="#f24a12"/><rect x="55.4" y="46" width="11.2" height="2.7" fill="#a9ecd6"/><rect x="57.6" y="46.6" width="6.8" height="1.3" fill="#d7f7ec"/><rect x="67.7" y="42.7" width="11.4" height="2.5" fill="#f24a12"/><rect x="67.7" y="46" width="11.4" height="2.7" fill="#a9ecd6"/><rect x="69.9" y="46.6" width="7" height="1.3" fill="#d7f7ec"/><rect x="80.4" y="42.7" width="10.3" height="2.5" fill="#f24a12"/><rect x="80.4" y="46" width="10.3" height="2.7" fill="#a9ecd6"/><rect x="82.6" y="46.6" width="5.9" height="1.3" fill="#d7f7ec"/><rect x="45.25" y="50.8" width="3" height="0.9" fill="#8890b0"/></g>
<g transform="translate(604 48.5)"><rect x="0" y="0" width="93.5" height="52.4" fill="#2b3256"/><rect x="1.4" y="1.3" width="90.6" height="48.9" fill="#a9ecd6"/><rect x="2.6" y="13.6" width="89.5" height="36" fill="#46464e"/><rect x="91.3" y="1.3" width="0.9" height="12.4" fill="#6d8f94"/><rect x="2.4" y="2" width="26.4" height="3.7" fill="#ffffff"/><rect x="3" y="2.6" width="2.2" height="2.6" fill="#2a4aa0"/><rect x="6.4" y="3" width="3" height="1.8" fill="#8aa0d0"/><rect x="10.4" y="3" width="3" height="1.8" fill="#4a70c0"/><rect x="15.2" y="3.2" width="2.2" height="1.6" fill="#3a5ab0"/><rect x="17.6" y="2.6" width="1.8" height="1.4" fill="#f08030"/><rect x="19.6" y="3.2" width="2.6" height="1.6" fill="#7a90d0"/><rect x="23" y="3.4" width="3.6" height="1.2" fill="#4a60c0"/><rect x="30" y="2.2" width="1.4" height="3" fill="#566470"/><rect x="32.1" y="2.2" width="1.4" height="3" fill="#566470"/><rect x="34.2" y="2.2" width="1.4" height="3" fill="#566470"/><rect x="36.3" y="2.2" width="1.4" height="3" fill="#566470"/><rect x="38.4" y="2.2" width="1.4" height="3" fill="#566470"/><rect x="40.5" y="2.2" width="1.4" height="3" fill="#566470"/><rect x="42.6" y="2.2" width="1.4" height="3" fill="#566470"/><rect x="44.7" y="2.2" width="1.4" height="3" fill="#566470"/><rect x="46.8" y="2.2" width="1.4" height="3" fill="#566470"/><rect x="48.9" y="2.2" width="1.4" height="3" fill="#566470"/><rect x="51" y="2.2" width="1.4" height="3" fill="#566470"/><rect x="53.1" y="2.2" width="1.4" height="3" fill="#566470"/><rect x="55.2" y="2.2" width="1.4" height="3" fill="#566470"/><rect x="57.3" y="2.2" width="1.4" height="3" fill="#566470"/><rect x="59.4" y="2.2" width="1.4" height="3" fill="#566470"/><rect x="61.5" y="2.2" width="1.4" height="3" fill="#566470"/><rect x="64.5" y="3.4" width="25" height="0.8" fill="#7f9f98"/><rect x="2.4" y="5.8" width="88.7" height="0.9" fill="#6a7478"/><rect x="2.4" y="9.9" width="88.7" height="0.9" fill="#6a7478"/><rect x="20" y="6.4" width="3.4" height="1" fill="#a9ecd6"/><rect x="44" y="6.4" width="3.4" height="1" fill="#a9ecd6"/><rect x="66" y="6.4" width="3.4" height="1" fill="#a9ecd6"/><rect x="86" y="6.4" width="3.4" height="1" fill="#a9ecd6"/><rect x="28" y="10.5" width="3.4" height="1" fill="#a9ecd6"/><rect x="44" y="10.5" width="3.4" height="1" fill="#a9ecd6"/><rect x="62" y="10.5" width="3.4" height="1" fill="#a9ecd6"/><rect x="86" y="10.5" width="3.4" height="1" fill="#a9ecd6"/><rect x="3.2" y="14.4" width="13.9" height="2.5" fill="#fff200"/><rect x="6.33" y="14" width="7.65" height="0.9" fill="#1c2050"/><rect x="18.2" y="14.4" width="10.9" height="2.5" fill="#fff200"/><rect x="20.65" y="14" width="6" height="0.9" fill="#1c2050"/><rect x="30.4" y="14.4" width="11.2" height="2.5" fill="#fff200"/><rect x="32.92" y="14" width="6.16" height="0.9" fill="#1c2050"/><rect x="42.9" y="14.4" width="11.2" height="2.5" fill="#fff200"/><rect x="45.42" y="14" width="6.16" height="0.9" fill="#1c2050"/><rect x="55.4" y="14.4" width="11.2" height="2.5" fill="#fff200"/><rect x="57.92" y="14" width="6.16" height="0.9" fill="#1c2050"/><rect x="67.7" y="14.4" width="11.4" height="2.5" fill="#fff200"/><rect x="70.27" y="14" width="6.27" height="0.9" fill="#1c2050"/><rect x="80.4" y="14.4" width="10.3" height="2.5" fill="#fff200"/><rect x="82.72" y="14" width="5.66" height="0.9" fill="#1c2050"/><rect x="3.2" y="18.5" width="13.9" height="1.9" fill="#ffffff"/><rect x="6.33" y="18" width="7.65" height="0.9" fill="#3a3c58"/><rect x="18.2" y="18.5" width="10.9" height="1.9" fill="#ffffff"/><rect x="20.65" y="18" width="6" height="0.9" fill="#3a3c58"/><rect x="30.4" y="18.5" width="11.2" height="1.9" fill="#ffffff"/><rect x="32.92" y="18" width="6.16" height="0.9" fill="#3a3c58"/><rect x="42.9" y="18.5" width="11.2" height="1.9" fill="#ffffff"/><rect x="45.42" y="18" width="6.16" height="1.2" fill="#0f956b"/><rect x="55.4" y="18.5" width="11.2" height="1.9" fill="#ffffff"/><rect x="57.92" y="18" width="6.16" height="1.2" fill="#f0642a"/><rect x="67.7" y="18.5" width="11.4" height="1.9" fill="#ffffff"/><rect x="70.27" y="18" width="6.27" height="1.2" fill="#f0642a"/><rect x="80.4" y="18.5" width="10.3" height="1.9" fill="#ffffff"/><rect x="82.72" y="18" width="5.66" height="1.2" fill="#0f956b"/><rect x="3.2" y="22.02" width="13.9" height="1.9" fill="#ffffff"/><rect x="6.33" y="21.52" width="7.65" height="0.9" fill="#3a3c58"/><rect x="18.2" y="22.02" width="10.9" height="1.9" fill="#ffffff"/><rect x="20.65" y="21.52" width="6" height="0.9" fill="#3a3c58"/><rect x="30.4" y="22.02" width="11.2" height="1.9" fill="#ffffff"/><rect x="32.92" y="21.52" width="6.16" height="0.9" fill="#3a3c58"/><rect x="42.9" y="22.02" width="11.2" height="1.9" fill="#ffffff"/><rect x="45.42" y="21.52" width="6.16" height="1.2" fill="#0f956b"/><rect x="55.4" y="22.02" width="11.2" height="1.9" fill="#ffffff"/><rect x="57.92" y="21.52" width="6.16" height="1.2" fill="#f0642a"/><rect x="67.7" y="22.02" width="11.4" height="1.9" fill="#ffffff"/><rect x="70.27" y="21.52" width="6.27" height="1.2" fill="#f0642a"/><rect x="80.4" y="22.02" width="10.3" height="1.9" fill="#ffffff"/><rect x="82.72" y="21.52" width="5.66" height="1.2" fill="#0f956b"/><rect x="3.2" y="25.54" width="13.9" height="1.9" fill="#ffffff"/><rect x="6.33" y="25.04" width="7.65" height="0.9" fill="#3a3c58"/><rect x="18.2" y="25.54" width="10.9" height="1.9" fill="#ffffff"/><rect x="20.65" y="25.04" width="6" height="0.9" fill="#3a3c58"/><rect x="30.4" y="25.54" width="11.2" height="1.9" fill="#ffffff"/><rect x="32.92" y="25.04" width="6.16" height="0.9" fill="#3a3c58"/><rect x="42.9" y="25.54" width="11.2" height="1.9" fill="#ffffff"/><rect x="45.42" y="25.04" width="6.16" height="1.2" fill="#0f956b"/><rect x="55.4" y="25.54" width="11.2" height="1.9" fill="#ffffff"/><rect x="57.92" y="25.04" width="6.16" height="1.2" fill="#f0642a"/><rect x="67.7" y="25.54" width="11.4" height="1.9" fill="#ffffff"/><rect x="70.27" y="25.04" width="6.27" height="1.2" fill="#f0642a"/><rect x="80.4" y="25.54" width="10.3" height="1.9" fill="#ffffff"/><rect x="82.72" y="25.04" width="5.66" height="1.2" fill="#0f956b"/><rect x="3.2" y="29.06" width="13.9" height="1.9" fill="#ffffff"/><rect x="6.33" y="28.56" width="7.65" height="0.9" fill="#3a3c58"/><rect x="18.2" y="29.06" width="10.9" height="1.9" fill="#ffffff"/><rect x="20.65" y="28.56" width="6" height="0.9" fill="#3a3c58"/><rect x="30.4" y="29.06" width="11.2" height="1.9" fill="#ffffff"/><rect x="32.92" y="28.56" width="6.16" height="0.9" fill="#3a3c58"/><rect x="42.9" y="29.06" width="11.2" height="1.9" fill="#ffffff"/><rect x="45.42" y="28.56" width="6.16" height="1.2" fill="#0f956b"/><rect x="55.4" y="29.06" width="11.2" height="1.9" fill="#ffffff"/><rect x="57.92" y="28.56" width="6.16" height="1.2" fill="#f0642a"/><rect x="67.7" y="29.06" width="11.4" height="1.9" fill="#ffffff"/><rect x="70.27" y="28.56" width="6.27" height="1.2" fill="#f0642a"/><rect x="80.4" y="29.06" width="10.3" height="1.9" fill="#ffffff"/><rect x="82.72" y="28.56" width="5.66" height="1.2" fill="#0f956b"/><rect x="3.2" y="32.58" width="13.9" height="1.9" fill="#ffffff"/><rect x="6.33" y="32.08" width="7.65" height="0.9" fill="#3a3c58"/><rect x="18.2" y="32.58" width="10.9" height="1.9" fill="#ffffff"/><rect x="20.65" y="32.08" width="6" height="0.9" fill="#3a3c58"/><rect x="30.4" y="32.58" width="11.2" height="1.9" fill="#ffffff"/><rect x="32.92" y="32.08" width="6.16" height="0.9" fill="#3a3c58"/><rect x="42.9" y="32.58" width="11.2" height="1.9" fill="#ffffff"/><rect x="45.42" y="32.08" width="6.16" height="1.2" fill="#0f956b"/><rect x="55.4" y="32.58" width="11.2" height="1.9" fill="#ffffff"/><rect x="57.92" y="32.08" width="6.16" height="1.2" fill="#f0642a"/><rect x="67.7" y="32.58" width="11.4" height="1.9" fill="#ffffff"/><rect x="70.27" y="32.08" width="6.27" height="1.2" fill="#f0642a"/><rect x="80.4" y="32.58" width="10.3" height="1.9" fill="#ffffff"/><rect x="82.72" y="32.08" width="5.66" height="1.2" fill="#0f956b"/><rect x="3.2" y="36.1" width="13.9" height="1.9" fill="#ffffff"/><rect x="6.33" y="35.6" width="7.65" height="0.9" fill="#3a3c58"/><rect x="18.2" y="36.1" width="10.9" height="1.9" fill="#ffffff"/><rect x="20.65" y="35.6" width="6" height="0.9" fill="#3a3c58"/><rect x="30.4" y="36.1" width="11.2" height="1.9" fill="#ffffff"/><rect x="32.92" y="35.6" width="6.16" height="0.9" fill="#3a3c58"/><rect x="42.9" y="36.1" width="11.2" height="1.9" fill="#ffffff"/><rect x="45.42" y="35.6" width="6.16" height="1.2" fill="#0f956b"/><rect x="55.4" y="36.1" width="11.2" height="1.9" fill="#ffffff"/><rect x="57.92" y="35.6" width="6.16" height="1.2" fill="#f0642a"/><rect x="67.7" y="36.1" width="11.4" height="1.9" fill="#ffffff"/><rect x="70.27" y="35.6" width="6.27" height="1.2" fill="#f0642a"/><rect x="80.4" y="36.1" width="10.3" height="1.9" fill="#ffffff"/><rect x="82.72" y="35.6" width="5.66" height="1.2" fill="#0f956b"/><rect x="3.2" y="39.62" width="13.9" height="1.9" fill="#ffffff"/><rect x="6.33" y="39.12" width="7.65" height="0.9" fill="#3a3c58"/><rect x="18.2" y="39.62" width="10.9" height="1.9" fill="#ffffff"/><rect x="20.65" y="39.12" width="6" height="0.9" fill="#3a3c58"/><rect x="30.4" y="39.62" width="11.2" height="1.9" fill="#ffffff"/><rect x="32.92" y="39.12" width="6.16" height="0.9" fill="#3a3c58"/><rect x="42.9" y="39.62" width="11.2" height="1.9" fill="#ffffff"/><rect x="45.42" y="39.12" width="6.16" height="1.2" fill="#0f956b"/><rect x="55.4" y="39.62" width="11.2" height="1.9" fill="#ffffff"/><rect x="57.92" y="39.12" width="6.16" height="1.2" fill="#f0642a"/><rect x="67.7" y="39.62" width="11.4" height="1.9" fill="#ffffff"/><rect x="70.27" y="39.12" width="6.27" height="1.2" fill="#f0642a"/><rect x="80.4" y="39.62" width="10.3" height="1.9" fill="#ffffff"/><rect x="82.72" y="39.12" width="5.66" height="1.2" fill="#0f956b"/><rect x="3.2" y="42.7" width="13.9" height="6" fill="#f53a05"/><rect x="6.5" y="44.2" width="7.5" height="0.9" fill="#ffd9c8"/><rect x="18.2" y="42.7" width="10.9" height="2.5" fill="#f24a12"/><rect x="18.2" y="46" width="10.9" height="2.7" fill="#a9ecd6"/><rect x="20.4" y="46.6" width="6.5" height="1.3" fill="#d7f7ec"/><rect x="30.4" y="42.7" width="11.2" height="2.5" fill="#f24a12"/><rect x="30.4" y="46" width="11.2" height="2.7" fill="#a9ecd6"/><rect x="32.6" y="46.6" width="6.8" height="1.3" fill="#d7f7ec"/><rect x="42.9" y="42.7" width="11.2" height="2.5" fill="#f24a12"/><rect x="42.9" y="46" width="11.2" height="2.7" fill="#a9ecd6"/><rect x="45.1" y="46.6" width="6.8" height="1.3" fill="#d7f7ec"/><rect x="55.4" y="42.7" width="11.2" height="2.5" fill="#f24a12"/><rect x="55.4" y="46" width="11.2" height="2.7" fill="#a9ecd6"/><rect x="57.6" y="46.6" width="6.8" height="1.3" fill="#d7f7ec"/><rect x="67.7" y="42.7" width="11.4" height="2.5" fill="#f24a12"/><rect x="67.7" y="46" width="11.4" height="2.7" fill="#a9ecd6"/><rect x="69.9" y="46.6" width="7" height="1.3" fill="#d7f7ec"/><rect x="80.4" y="42.7" width="10.3" height="2.5" fill="#f24a12"/><rect x="80.4" y="46" width="10.3" height="2.7" fill="#a9ecd6"/><rect x="82.6" y="46.6" width="5.9" height="1.3" fill="#d7f7ec"/><rect x="45.25" y="50.8" width="3" height="0.9" fill="#8890b0"/></g>
<g transform="translate(133.8 111.3)"><rect x="0" y="0" width="7.2" height="2" fill="#c3c9ea" rx="0.8"/><rect x="2.9" y="1.8" width="1.4" height="8" fill="#ffffff"/><rect x="1.2" y="9.6" width="4.9" height="7.4" fill="#cdc6dc"/><rect x="1.2" y="16.8" width="4.9" height="1.4" fill="#ffffff"/><rect x="1.2" y="18" width="4.9" height="5.8" fill="#0c9163"/><rect x="1.2" y="23.8" width="4.9" height="1" fill="#f4e8d0"/><rect x="1.2" y="24.7" width="4.9" height="5.8" fill="#f26a22"/><rect x="1.2" y="30.5" width="4.9" height="1.2" fill="#f6d8c8"/><rect x="1.2" y="31.6" width="4.9" height="6.4" fill="#dc3a12"/><rect x="1" y="38" width="5.3" height="1.6" fill="#e8e4f0"/></g>
<g transform="translate(256.4 111.3)"><rect x="0" y="0" width="7.2" height="2" fill="#c3c9ea" rx="0.8"/><rect x="2.9" y="1.8" width="1.4" height="8" fill="#ffffff"/><rect x="1.2" y="9.6" width="4.9" height="7.4" fill="#cdc6dc"/><rect x="1.2" y="16.8" width="4.9" height="1.4" fill="#ffffff"/><rect x="1.2" y="18" width="4.9" height="5.8" fill="#0c9163"/><rect x="1.2" y="23.8" width="4.9" height="1" fill="#f4e8d0"/><rect x="1.2" y="24.7" width="4.9" height="5.8" fill="#f26a22"/><rect x="1.2" y="30.5" width="4.9" height="1.2" fill="#f6d8c8"/><rect x="1.2" y="31.6" width="4.9" height="6.4" fill="#dc3a12"/><rect x="1" y="38" width="5.3" height="1.6" fill="#e8e4f0"/></g>
<g transform="translate(375.2 111.3)"><rect x="0" y="0" width="7.2" height="2" fill="#c3c9ea" rx="0.8"/><rect x="2.9" y="1.8" width="1.4" height="8" fill="#ffffff"/><rect x="1.2" y="9.6" width="4.9" height="7.4" fill="#cdc6dc"/><rect x="1.2" y="16.8" width="4.9" height="1.4" fill="#ffffff"/><rect x="1.2" y="18" width="4.9" height="5.8" fill="#0c9163"/><rect x="1.2" y="23.8" width="4.9" height="1" fill="#f4e8d0"/><rect x="1.2" y="24.7" width="4.9" height="5.8" fill="#f26a22"/><rect x="1.2" y="30.5" width="4.9" height="1.2" fill="#f6d8c8"/><rect x="1.2" y="31.6" width="4.9" height="6.4" fill="#dc3a12"/><rect x="1" y="38" width="5.3" height="1.6" fill="#e8e4f0"/></g>
<g transform="translate(496.6 111.3)"><rect x="0" y="0" width="7.2" height="2" fill="#c3c9ea" rx="0.8"/><rect x="2.9" y="1.8" width="1.4" height="8" fill="#ffffff"/><rect x="1.2" y="9.6" width="4.9" height="7.4" fill="#cdc6dc"/><rect x="1.2" y="16.8" width="4.9" height="1.4" fill="#ffffff"/><rect x="1.2" y="18" width="4.9" height="5.8" fill="#0c9163"/><rect x="1.2" y="23.8" width="4.9" height="1" fill="#f4e8d0"/><rect x="1.2" y="24.7" width="4.9" height="5.8" fill="#f26a22"/><rect x="1.2" y="30.5" width="4.9" height="1.2" fill="#f6d8c8"/><rect x="1.2" y="31.6" width="4.9" height="6.4" fill="#dc3a12"/><rect x="1" y="38" width="5.3" height="1.6" fill="#e8e4f0"/></g>
<g transform="translate(64.9 172.3)"><path d="M0.4 8 L0.4 11.6 L17.8 20.6 L36.4 9.6 L36.4 6.9 L19.8 0 Z" fill="#1b1d3d"/><path d="M1.2 11.2 L15.6 18.7 L15.6 17.1 L1.2 9.8 Z" fill="#2bb6d6"/><path d="M0.4 8 L19.8 0 L36.4 6.9 L17.8 18 Z" fill="#3e3f48"/><path d="M19.8 0.3 L36.2 7" stroke="#26294a" stroke-width="0.9" fill="none"/><path d="M21 18 L35.4 9.4" stroke="#8f93a8" stroke-width="0.7" fill="none" stroke-dasharray="2 1.6"/><circle cx="19.6" cy="5.4" r="1.2" fill="#2a2a32"/><path d="M21.4 1.6 L25.2 4.8" stroke="#6f7f9f" stroke-width="0.8" fill="none"/></g>
<g transform="translate(188 172.3)"><path d="M0.4 8 L0.4 11.6 L17.8 20.6 L36.4 9.6 L36.4 6.9 L19.8 0 Z" fill="#1b1d3d"/><path d="M1.2 11.2 L15.6 18.7 L15.6 17.1 L1.2 9.8 Z" fill="#2bb6d6"/><path d="M0.4 8 L19.8 0 L36.4 6.9 L17.8 18 Z" fill="#3e3f48"/><path d="M19.8 0.3 L36.2 7" stroke="#26294a" stroke-width="0.9" fill="none"/><path d="M21 18 L35.4 9.4" stroke="#8f93a8" stroke-width="0.7" fill="none" stroke-dasharray="2 1.6"/><circle cx="19.6" cy="5.4" r="1.2" fill="#2a2a32"/><path d="M21.4 1.6 L25.2 4.8" stroke="#6f7f9f" stroke-width="0.8" fill="none"/></g>
<g transform="translate(306.2 172.3)"><path d="M0.4 8 L0.4 11.6 L17.8 20.6 L36.4 9.6 L36.4 6.9 L19.8 0 Z" fill="#1b1d3d"/><path d="M1.2 11.2 L15.6 18.7 L15.6 17.1 L1.2 9.8 Z" fill="#2bb6d6"/><path d="M0.4 8 L19.8 0 L36.4 6.9 L17.8 18 Z" fill="#3e3f48"/><path d="M19.8 0.3 L36.2 7" stroke="#26294a" stroke-width="0.9" fill="none"/><path d="M21 18 L35.4 9.4" stroke="#8f93a8" stroke-width="0.7" fill="none" stroke-dasharray="2 1.6"/><circle cx="19.6" cy="5.4" r="1.2" fill="#2a2a32"/><path d="M21.4 1.6 L25.2 4.8" stroke="#6f7f9f" stroke-width="0.8" fill="none"/></g>
<g transform="translate(428.3 172.3)"><path d="M0.4 8 L0.4 11.6 L17.8 20.6 L36.4 9.6 L36.4 6.9 L19.8 0 Z" fill="#1b1d3d"/><path d="M1.2 11.2 L15.6 18.7 L15.6 17.1 L1.2 9.8 Z" fill="#2bb6d6"/><path d="M0.4 8 L19.8 0 L36.4 6.9 L17.8 18 Z" fill="#3e3f48"/><path d="M19.8 0.3 L36.2 7" stroke="#26294a" stroke-width="0.9" fill="none"/><path d="M21 18 L35.4 9.4" stroke="#8f93a8" stroke-width="0.7" fill="none" stroke-dasharray="2 1.6"/><circle cx="19.6" cy="5.4" r="1.2" fill="#2a2a32"/><path d="M21.4 1.6 L25.2 4.8" stroke="#6f7f9f" stroke-width="0.8" fill="none"/></g>
<g transform="translate(540.3 44.7)"><path d="M0.4 8 L0.4 11.6 L17.8 20.6 L36.4 9.6 L36.4 6.9 L19.8 0 Z" fill="#1b1d3d"/><path d="M1.2 11.2 L15.6 18.7 L15.6 17.1 L1.2 9.8 Z" fill="#2bb6d6"/><path d="M0.4 8 L19.8 0 L36.4 6.9 L17.8 18 Z" fill="#3e3f48"/><path d="M19.8 0.3 L36.2 7" stroke="#26294a" stroke-width="0.9" fill="none"/><path d="M21 18 L35.4 9.4" stroke="#8f93a8" stroke-width="0.7" fill="none" stroke-dasharray="2 1.6"/><circle cx="19.6" cy="5.4" r="1.2" fill="#2a2a32"/><path d="M21.4 1.6 L25.2 4.8" stroke="#6f7f9f" stroke-width="0.8" fill="none"/></g>
<g transform="translate(124.3 67.1) scale(1 0.98)"><path d="M4.2 0 L44.4 0 L48.6 5.6 L48.6 14.4 L0 14.4 L0 5.6 Z" fill="#5f5058"/><path d="M4.2 0 L44.4 0 L48.6 5.6 L0 5.6 Z" fill="#6b5a5c"/><path d="M4.2 0.3 L44.4 0.3" stroke="#3b3252" stroke-width="0.9"/><rect x="0.4" y="5.8" width="47.8" height="8.2" fill="#6a5a5a"/><rect x="0" y="13.6" width="48.6" height="0.9" fill="#4a4058"/><rect x="2.6" y="7.2" width="7.6" height="1.5" fill="#d8d4dc"/><rect x="2.6" y="10.2" width="9" height="1.4" fill="#7d6e70"/><rect x="19.2" y="9.4" width="3" height="2.8" fill="#1c1c2c"/><rect x="20.8" y="8.8" width="1.3" height="0.9" fill="#2e9a7a"/><rect x="19.4" y="12" width="2.6" height="0.8" fill="#a09aa4"/><rect x="24.7" y="9.4" width="3" height="2.8" fill="#1c1c2c"/><rect x="26.3" y="8.8" width="1.3" height="0.9" fill="#2e9a7a"/><rect x="24.9" y="12" width="2.6" height="0.8" fill="#a09aa4"/><rect x="30.2" y="9.4" width="3" height="2.8" fill="#1c1c2c"/><rect x="31.8" y="8.8" width="1.3" height="0.9" fill="#2e9a7a"/><rect x="30.4" y="12" width="2.6" height="0.8" fill="#a09aa4"/><rect x="35.7" y="9.4" width="3" height="2.8" fill="#1c1c2c"/><rect x="37.3" y="8.8" width="1.3" height="0.9" fill="#2e9a7a"/><rect x="35.9" y="12" width="2.6" height="0.8" fill="#a09aa4"/><rect x="41.8" y="9.4" width="3" height="2.8" fill="#1c1c2c"/><rect x="43.4" y="8.8" width="1.3" height="0.9" fill="#2e9a7a"/><rect x="42" y="12" width="2.6" height="0.8" fill="#a09aa4"/><rect x="31" y="1.8" width="1.6" height="1.6" fill="#9a8a90"/></g>
<g transform="translate(365.4 67.1) scale(1 0.98)"><path d="M4.2 0 L44.4 0 L48.6 5.6 L48.6 14.4 L0 14.4 L0 5.6 Z" fill="#5f5058"/><path d="M4.2 0 L44.4 0 L48.6 5.6 L0 5.6 Z" fill="#6b5a5c"/><path d="M4.2 0.3 L44.4 0.3" stroke="#3b3252" stroke-width="0.9"/><rect x="0.4" y="5.8" width="47.8" height="8.2" fill="#6a5a5a"/><rect x="0" y="13.6" width="48.6" height="0.9" fill="#4a4058"/><rect x="2.6" y="7.2" width="7.6" height="1.5" fill="#d8d4dc"/><rect x="2.6" y="10.2" width="9" height="1.4" fill="#7d6e70"/><rect x="19.2" y="9.4" width="3" height="2.8" fill="#1c1c2c"/><rect x="20.8" y="8.8" width="1.3" height="0.9" fill="#2e9a7a"/><rect x="19.4" y="12" width="2.6" height="0.8" fill="#a09aa4"/><rect x="24.7" y="9.4" width="3" height="2.8" fill="#1c1c2c"/><rect x="26.3" y="8.8" width="1.3" height="0.9" fill="#2e9a7a"/><rect x="24.9" y="12" width="2.6" height="0.8" fill="#a09aa4"/><rect x="30.2" y="9.4" width="3" height="2.8" fill="#1c1c2c"/><rect x="31.8" y="8.8" width="1.3" height="0.9" fill="#2e9a7a"/><rect x="30.4" y="12" width="2.6" height="0.8" fill="#a09aa4"/><rect x="35.7" y="9.4" width="3" height="2.8" fill="#1c1c2c"/><rect x="37.3" y="8.8" width="1.3" height="0.9" fill="#2e9a7a"/><rect x="35.9" y="12" width="2.6" height="0.8" fill="#a09aa4"/><rect x="41.8" y="9.4" width="3" height="2.8" fill="#1c1c2c"/><rect x="43.4" y="8.8" width="1.3" height="0.9" fill="#2e9a7a"/><rect x="42" y="12" width="2.6" height="0.8" fill="#a09aa4"/><rect x="31" y="1.8" width="1.6" height="1.6" fill="#9a8a90"/></g>
<g transform="translate(549.8 177.8) scale(1 0.9)"><path d="M4.2 0 L44.4 0 L48.6 5.6 L48.6 14.4 L0 14.4 L0 5.6 Z" fill="#5f5058"/><path d="M4.2 0 L44.4 0 L48.6 5.6 L0 5.6 Z" fill="#6b5a5c"/><path d="M4.2 0.3 L44.4 0.3" stroke="#3b3252" stroke-width="0.9"/><rect x="0.4" y="5.8" width="47.8" height="8.2" fill="#6a5a5a"/><rect x="0" y="13.6" width="48.6" height="0.9" fill="#4a4058"/><rect x="2.6" y="7.2" width="7.6" height="1.5" fill="#d8d4dc"/><rect x="2.6" y="10.2" width="9" height="1.4" fill="#7d6e70"/><rect x="19.2" y="9.4" width="3" height="2.8" fill="#1c1c2c"/><rect x="20.8" y="8.8" width="1.3" height="0.9" fill="#2e9a7a"/><rect x="19.4" y="12" width="2.6" height="0.8" fill="#a09aa4"/><rect x="24.7" y="9.4" width="3" height="2.8" fill="#1c1c2c"/><rect x="26.3" y="8.8" width="1.3" height="0.9" fill="#2e9a7a"/><rect x="24.9" y="12" width="2.6" height="0.8" fill="#a09aa4"/><rect x="30.2" y="9.4" width="3" height="2.8" fill="#1c1c2c"/><rect x="31.8" y="8.8" width="1.3" height="0.9" fill="#2e9a7a"/><rect x="30.4" y="12" width="2.6" height="0.8" fill="#a09aa4"/><rect x="35.7" y="9.4" width="3" height="2.8" fill="#1c1c2c"/><rect x="37.3" y="8.8" width="1.3" height="0.9" fill="#2e9a7a"/><rect x="35.9" y="12" width="2.6" height="0.8" fill="#a09aa4"/><rect x="41.8" y="9.4" width="3" height="2.8" fill="#1c1c2c"/><rect x="43.4" y="8.8" width="1.3" height="0.9" fill="#2e9a7a"/><rect x="42" y="12" width="2.6" height="0.8" fill="#a09aa4"/><rect x="31" y="1.8" width="1.6" height="1.6" fill="#9a8a90"/></g>
<g transform="translate(630.4 117.1)"><rect x="0" y="0" width="18" height="38" fill="#23242c" rx="1"/><rect x="1.2" y="1.4" width="15.6" height="4.2" fill="#2f313b"/><rect x="1.2" y="6.4" width="15.6" height="0.8" fill="#4a4c58"/><rect x="1.2" y="7.4" width="15.6" height="27.6" fill="#2a2b34"/><rect x="12.6" y="7.4" width="4.2" height="27.6" fill="#33343e"/><circle cx="8" cy="23" r="2.4" fill="none" stroke="#50525e" stroke-width="0.8"/><rect x="0.6" y="35.4" width="16.8" height="1.2" fill="#3a3c48"/><rect x="16" y="6.4" width="38.6" height="26.4" fill="#22232b" rx="1"/><rect x="17.8" y="8.8" width="34.4" height="21" fill="url(#pg)"/><path d="M17.8 25 L35 8.8 L43 8.8 L17.8 29.8 Z" fill="#ffffff" opacity="0.18"/><path d="M29.6 32.6 L40.4 32.6 L41.8 36 L28.2 36 Z" fill="#30323c"/><rect x="22.6" y="35.8" width="24" height="2.2" fill="#2a2c38" rx="0.8"/></g>
<g transform="translate(630.4 186.1)"><rect x="0" y="0" width="18" height="38" fill="#23242c" rx="1"/><rect x="1.2" y="1.4" width="15.6" height="4.2" fill="#2f313b"/><rect x="1.2" y="6.4" width="15.6" height="0.8" fill="#4a4c58"/><rect x="1.2" y="7.4" width="15.6" height="27.6" fill="#2a2b34"/><rect x="12.6" y="7.4" width="4.2" height="27.6" fill="#33343e"/><circle cx="8" cy="23" r="2.4" fill="none" stroke="#50525e" stroke-width="0.8"/><rect x="0.6" y="35.4" width="16.8" height="1.2" fill="#3a3c48"/><rect x="16" y="6.4" width="38.6" height="26.4" fill="#22232b" rx="1"/><rect x="17.8" y="8.8" width="34.4" height="21" fill="url(#pg)"/><path d="M17.8 25 L35 8.8 L43 8.8 L17.8 29.8 Z" fill="#ffffff" opacity="0.18"/><path d="M29.6 32.6 L40.4 32.6 L41.8 36 L28.2 36 Z" fill="#30323c"/><rect x="22.6" y="35.8" width="24" height="2.2" fill="#2a2c38" rx="0.8"/></g>
<g transform="translate(630.4 254.8)"><rect x="0" y="0" width="18" height="38" fill="#23242c" rx="1"/><rect x="1.2" y="1.4" width="15.6" height="4.2" fill="#2f313b"/><rect x="1.2" y="6.4" width="15.6" height="0.8" fill="#4a4c58"/><rect x="1.2" y="7.4" width="15.6" height="27.6" fill="#2a2b34"/><rect x="12.6" y="7.4" width="4.2" height="27.6" fill="#33343e"/><circle cx="8" cy="23" r="2.4" fill="none" stroke="#50525e" stroke-width="0.8"/><rect x="0.6" y="35.4" width="16.8" height="1.2" fill="#3a3c48"/><rect x="16" y="6.4" width="38.6" height="26.4" fill="#22232b" rx="1"/><rect x="17.8" y="8.8" width="34.4" height="21" fill="url(#pg)"/><path d="M17.8 25 L35 8.8 L43 8.8 L17.8 29.8 Z" fill="#ffffff" opacity="0.18"/><path d="M29.6 32.6 L40.4 32.6 L41.8 36 L28.2 36 Z" fill="#30323c"/><rect x="22.6" y="35.8" width="24" height="2.2" fill="#2a2c38" rx="0.8"/></g>
<g transform="translate(554 230.5)"><rect x="0" y="6.4" width="12.4" height="29.4" fill="#1c1e2a" rx="1.5"/><rect x="30.6" y="6.4" width="12.4" height="29.4" fill="#1c1e2a" rx="1.5"/><rect x="1.2" y="12.4" width="10.4" height="1.3" fill="#4d505c"/><rect x="31.4" y="12.4" width="10.4" height="1.3" fill="#4d505c"/><rect x="1.2" y="17.2" width="10.4" height="1.3" fill="#4d505c"/><rect x="31.4" y="17.2" width="10.4" height="1.3" fill="#4d505c"/><rect x="1.2" y="22" width="10.4" height="1.3" fill="#4d505c"/><rect x="31.4" y="22" width="10.4" height="1.3" fill="#4d505c"/><rect x="1.2" y="26.8" width="10.4" height="1.3" fill="#4d505c"/><rect x="31.4" y="26.8" width="10.4" height="1.3" fill="#4d505c"/><rect x="11.4" y="0" width="20.2" height="39.6" fill="#16171f" rx="1.5"/><rect x="12.8" y="2" width="17.4" height="4.4" fill="#2b2d39"/><rect x="13.2" y="9.4" width="16.6" height="1.5" fill="#757884"/><rect x="13.2" y="18.2" width="16.6" height="1.5" fill="#757884"/><rect x="13.2" y="22.6" width="16.6" height="1.5" fill="#757884"/><rect x="13.2" y="27" width="16.6" height="1.5" fill="#757884"/><rect x="13.2" y="31.2" width="16.6" height="1.5" fill="#757884"/></g>
<path d="M77.6 87.6L83 87.6L103.2 106.4" stroke="#bfc6b4" stroke-width="1.1" fill="none"/><path d="M77.8 169.4L84 169.4" stroke="#bfc6b4" stroke-width="1.1" fill="none"/><path d="M55.6 205.4L57.6 205.4L60.2 220" stroke="#bfc6b4" stroke-width="1.1" fill="none"/><path d="M112.4 193.6L108.6 193.6L96.6 247" stroke="#bfc6b4" stroke-width="1.1" fill="none"/><path d="M123.4 282.4L118.4 282.4L98.8 336" stroke="#bfc6b4" stroke-width="1.1" fill="none"/><path d="M380.8 53L385.8 53L392.6 61.4" stroke="#bfc6b4" stroke-width="1.1" fill="none"/><path d="M540 47.3L562 48.6L595 53.4" stroke="#bfc6b4" stroke-width="1.1" fill="none"/><path d="M516.4 99.4L512.2 99.4L507 108" stroke="#bfc6b4" stroke-width="1.1" fill="none"/><path d="M583 283.5L588.6 283.5L594.8 267.6" stroke="#bfc6b4" stroke-width="1.1" fill="none"/><path d="M647 297.3L666 322.8L669.5 322.8" stroke="#bfc6b4" stroke-width="1.1" fill="none"/>
<rect x="359.2" y="39.4" width="2.6" height="2" fill="#dfe6ff"/><rect x="-0.4" y="222.4" width="1.8" height="3.2" fill="#dfe6ff"/><rect x="718.3" y="222.4" width="2.2" height="3.2" fill="#d6e0ff"/><rect x="359" y="406.9" width="2.8" height="2.1" fill="#d6e0ff"/>
<rect x="6.4" y="84.6" width="65.7" height="19.2" fill="#c5d5f6" stroke="#afbbe8" stroke-width="0.8"/>
<rect x="6.4" y="166.2" width="65.7" height="19" fill="#c5d5f6" stroke="#afbbe8" stroke-width="0.8"/>
<rect x="6.4" y="202.4" width="44.2" height="18.2" fill="#c5d5f6" stroke="#afbbe8" stroke-width="0.8"/>
<rect x="116.1" y="187.9" width="45.6" height="33.2" fill="#c5d5f6" stroke="#afbbe8" stroke-width="0.8"/>
<rect x="124.6" y="274.6" width="45.9" height="48.4" fill="#c5d5f6" stroke="#afbbe8" stroke-width="0.8"/>
<rect x="308.7" y="50.1" width="66.2" height="19.2" fill="#c5d5f6" stroke="#afbbe8" stroke-width="0.8"/>
<rect x="468.4" y="44.1" width="66" height="19.2" fill="#c5d5f6" stroke="#afbbe8" stroke-width="0.8"/>
<rect x="520.3" y="96.5" width="47.8" height="19.4" fill="#c5d5f6" stroke="#afbbe8" stroke-width="0.8"/>
<rect x="511.4" y="279.9" width="66.2" height="19.7" fill="#c5d5f6" stroke="#afbbe8" stroke-width="0.8"/>
<rect x="672.4" y="316.9" width="39.8" height="33.2" fill="#c5d5f6" stroke="#afbbe8" stroke-width="0.8"/>
</svg>
<div class="lb" style="left:6px;top:85.2px;width:66.5px;height:20px"><span>液晶看板</span></div>
<div class="lb" style="left:6px;top:166.1px;width:66.5px;height:19.8px"><span>液晶终端</span></div>
<div class="lb en" style="left:5.6px;top:201px;width:45px;height:19px"><span>SOP</span></div>
<div class="lb ml" style="left:116.3px;top:187.8px;width:46.4px;height:34px"><span style="width:26px">光电开关</span></div>
<div class="lb ml" style="left:125.4px;top:274.8px;width:46.7px;height:49.2px"><span style="width:26px">不良按钮盒</span></div>
<div class="lb" style="left:308.7px;top:50px;width:67px;height:20px"><span>交换机</span></div>
<div class="lb" style="left:468.3px;top:44px;width:66.8px;height:20px"><span>汇总看板</span></div>
<div class="lb" style="left:520.9px;top:96.4px;width:48.6px;height:20.2px"><span>警灯</span></div>
<div class="lb" style="left:511.5px;top:280.1px;width:67px;height:20.5px"><span>服务器</span></div>
<div class="lb ml" style="left:673px;top:316.8px;width:40.6px;height:34px"><span style="width:26px">控制PC</span></div>
<div class="cv" style="left:70.3px;top:253.2px;width:29.6px">流动生产线</div>
<div class="cv" style="left:192.8px;top:253.2px;width:29.9px">流动生产线</div>
<div class="cv" style="left:310.8px;top:253.2px;width:29.9px">流动生产线</div>
<div class="cv" style="left:433.1px;top:253.2px;width:30px">流动生产线</div>
</div>
</body>
</html>
